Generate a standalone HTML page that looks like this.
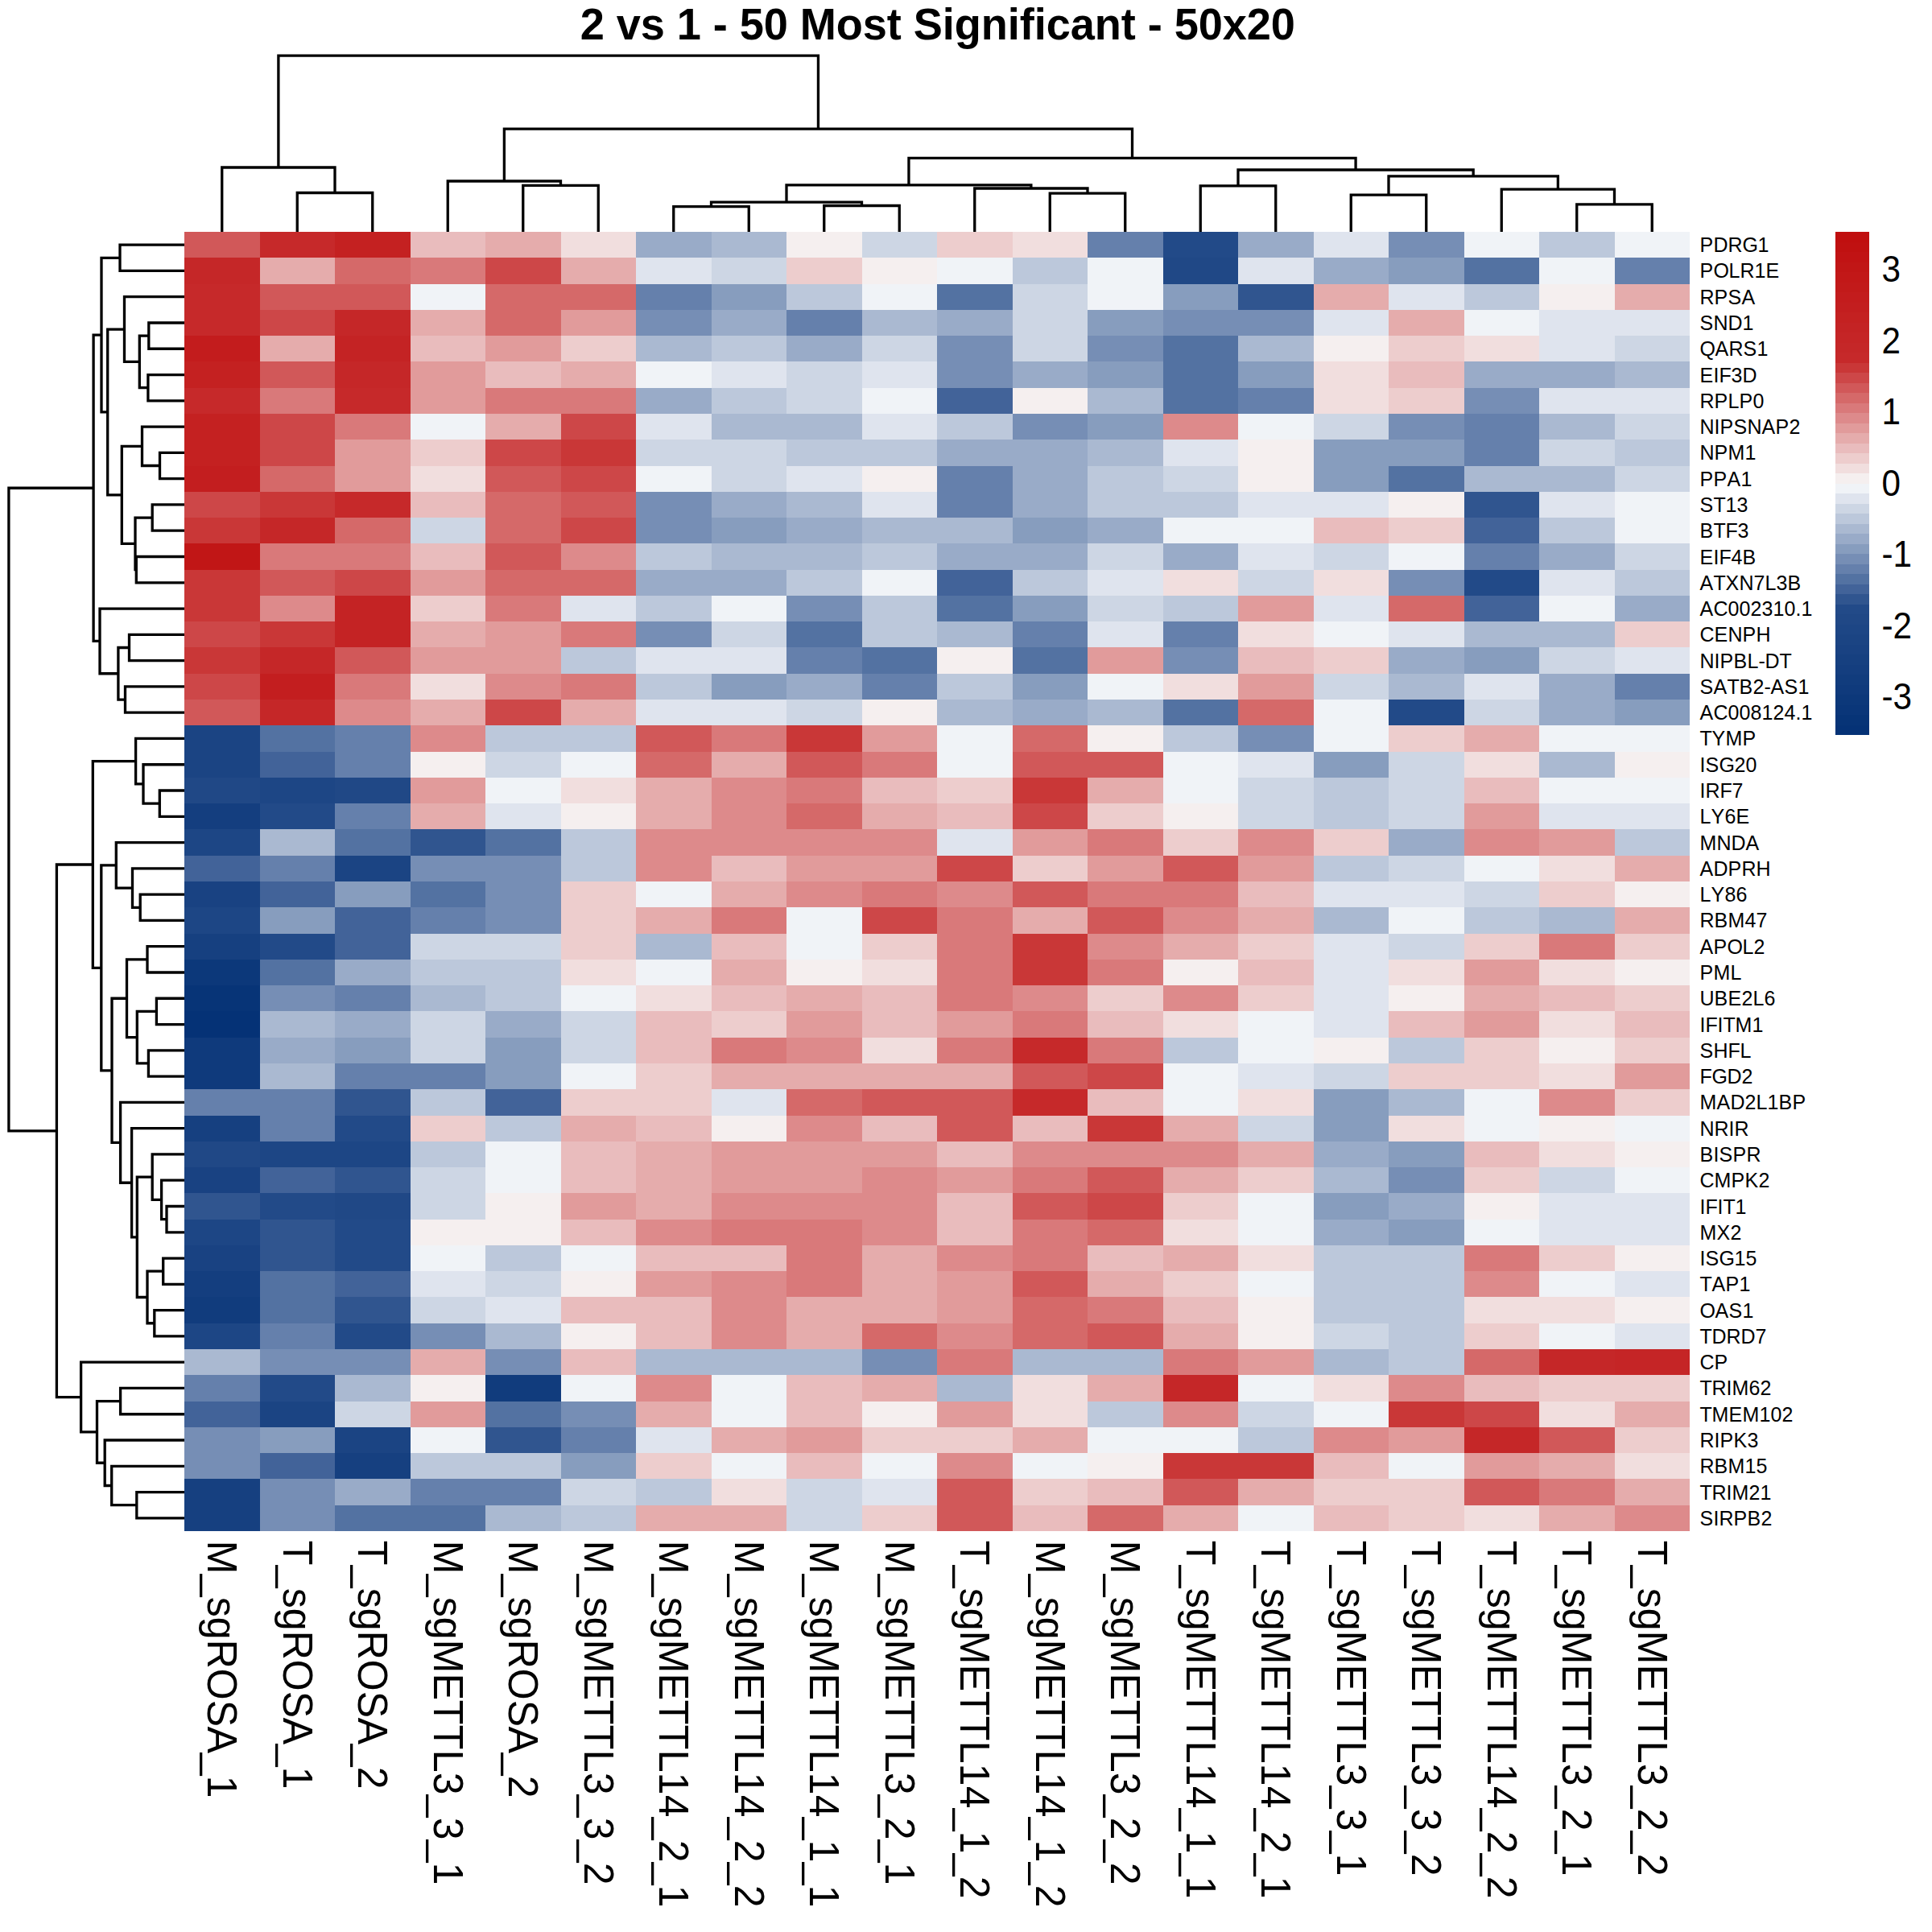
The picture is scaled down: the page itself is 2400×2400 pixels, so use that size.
<!DOCTYPE html>
<html lang="en"><head><meta charset="utf-8"><title>2 vs 1 - 50 Most Significant - 50x20</title>
<style>html,body{margin:0;padding:0;background:#fff}svg{display:block}text{font-family:"Liberation Sans",sans-serif;fill:#000}.t{font-weight:bold;font-size:54.17px}.r{font-size:25.0px}.c{font-size:50.0px}.l{font-size:42.3px}.d path{stroke:#000;stroke-width:3.3;fill:none;stroke-linecap:butt;stroke-linejoin:miter}</style></head><body>
<svg width="2400" height="2400" viewBox="0 0 2400 2400">
<rect width="2400" height="2400" fill="#fff"/>
<text class="t" transform="translate(720.70,49.0) scale(1,1.035)" x="0 30 45 75 105 120 150 165 183 198 228 258 273 318 351 381 399 414 450 465 498 531 546 564 579 609 639 672 690 705 723 738 768 798 828 858">2 vs 1 - 50 Most Significant - 50x20</text>
<g shape-rendering="crispEdges">
<rect x="229.00" y="288.00" width="94.00" height="32.78" fill="#D15859"/>
<rect x="322.50" y="288.00" width="94.00" height="32.78" fill="#C6292A"/>
<rect x="416.00" y="288.00" width="94.00" height="32.78" fill="#C42121"/>
<rect x="509.50" y="288.00" width="94.00" height="32.78" fill="#E9BCBD"/>
<rect x="603.00" y="288.00" width="94.00" height="32.78" fill="#E5ACAC"/>
<rect x="696.50" y="288.00" width="94.00" height="32.78" fill="#F1DEDE"/>
<rect x="790.00" y="288.00" width="94.00" height="32.78" fill="#99ABC8"/>
<rect x="883.50" y="288.00" width="94.00" height="32.78" fill="#AAB9D1"/>
<rect x="977.00" y="288.00" width="94.00" height="32.78" fill="#F5EFEF"/>
<rect x="1070.50" y="288.00" width="94.00" height="32.78" fill="#CDD6E4"/>
<rect x="1164.00" y="288.00" width="94.00" height="32.78" fill="#EDCDCD"/>
<rect x="1257.50" y="288.00" width="94.00" height="32.78" fill="#F1DEDE"/>
<rect x="1351.00" y="288.00" width="94.00" height="32.78" fill="#6580AC"/>
<rect x="1444.50" y="288.00" width="94.00" height="32.78" fill="#224A88"/>
<rect x="1538.00" y="288.00" width="94.00" height="32.78" fill="#99ABC8"/>
<rect x="1631.50" y="288.00" width="94.00" height="32.78" fill="#DFE4EE"/>
<rect x="1725.00" y="288.00" width="94.00" height="32.78" fill="#768EB5"/>
<rect x="1818.50" y="288.00" width="94.00" height="32.78" fill="#F0F3F7"/>
<rect x="1912.00" y="288.00" width="94.00" height="32.78" fill="#BCC8DB"/>
<rect x="2005.50" y="288.00" width="93.50" height="32.78" fill="#F0F3F7"/>
<rect x="229.00" y="320.28" width="94.00" height="32.78" fill="#C52728"/>
<rect x="322.50" y="320.28" width="94.00" height="32.78" fill="#E5ACAC"/>
<rect x="416.00" y="320.28" width="94.00" height="32.78" fill="#D56969"/>
<rect x="509.50" y="320.28" width="94.00" height="32.78" fill="#D9797A"/>
<rect x="603.00" y="320.28" width="94.00" height="32.78" fill="#CD4748"/>
<rect x="696.50" y="320.28" width="94.00" height="32.78" fill="#E5ACAC"/>
<rect x="790.00" y="320.28" width="94.00" height="32.78" fill="#DFE4EE"/>
<rect x="883.50" y="320.28" width="94.00" height="32.78" fill="#CDD6E4"/>
<rect x="977.00" y="320.28" width="94.00" height="32.78" fill="#EDCDCD"/>
<rect x="1070.50" y="320.28" width="94.00" height="32.78" fill="#F5EFEF"/>
<rect x="1164.00" y="320.28" width="94.00" height="32.78" fill="#F0F3F7"/>
<rect x="1257.50" y="320.28" width="94.00" height="32.78" fill="#BCC8DB"/>
<rect x="1351.00" y="320.28" width="94.00" height="32.78" fill="#F0F3F7"/>
<rect x="1444.50" y="320.28" width="94.00" height="32.78" fill="#204886"/>
<rect x="1538.00" y="320.28" width="94.00" height="32.78" fill="#DFE4EE"/>
<rect x="1631.50" y="320.28" width="94.00" height="32.78" fill="#99ABC8"/>
<rect x="1725.00" y="320.28" width="94.00" height="32.78" fill="#879DBE"/>
<rect x="1818.50" y="320.28" width="94.00" height="32.78" fill="#5372A2"/>
<rect x="1912.00" y="320.28" width="94.00" height="32.78" fill="#F0F3F7"/>
<rect x="2005.50" y="320.28" width="93.50" height="32.78" fill="#6580AC"/>
<rect x="229.00" y="352.56" width="94.00" height="32.78" fill="#C6292A"/>
<rect x="322.50" y="352.56" width="187.50" height="32.78" fill="#D15859"/>
<rect x="509.50" y="352.56" width="94.00" height="32.78" fill="#F0F3F7"/>
<rect x="603.00" y="352.56" width="187.50" height="32.78" fill="#D56969"/>
<rect x="790.00" y="352.56" width="94.00" height="32.78" fill="#6580AC"/>
<rect x="883.50" y="352.56" width="94.00" height="32.78" fill="#879DBE"/>
<rect x="977.00" y="352.56" width="94.00" height="32.78" fill="#BCC8DB"/>
<rect x="1070.50" y="352.56" width="94.00" height="32.78" fill="#F0F3F7"/>
<rect x="1164.00" y="352.56" width="94.00" height="32.78" fill="#5372A2"/>
<rect x="1257.50" y="352.56" width="94.00" height="32.78" fill="#CDD6E4"/>
<rect x="1351.00" y="352.56" width="94.00" height="32.78" fill="#F0F3F7"/>
<rect x="1444.50" y="352.56" width="94.00" height="32.78" fill="#879DBE"/>
<rect x="1538.00" y="352.56" width="94.00" height="32.78" fill="#30558F"/>
<rect x="1631.50" y="352.56" width="94.00" height="32.78" fill="#E5ACAC"/>
<rect x="1725.00" y="352.56" width="94.00" height="32.78" fill="#DFE4EE"/>
<rect x="1818.50" y="352.56" width="94.00" height="32.78" fill="#BCC8DB"/>
<rect x="1912.00" y="352.56" width="94.00" height="32.78" fill="#F5EFEF"/>
<rect x="2005.50" y="352.56" width="93.50" height="32.78" fill="#E5ACAC"/>
<rect x="229.00" y="384.84" width="94.00" height="32.78" fill="#C6292A"/>
<rect x="322.50" y="384.84" width="94.00" height="32.78" fill="#CD4748"/>
<rect x="416.00" y="384.84" width="94.00" height="32.78" fill="#C52728"/>
<rect x="509.50" y="384.84" width="94.00" height="32.78" fill="#E5ACAC"/>
<rect x="603.00" y="384.84" width="94.00" height="32.78" fill="#D56969"/>
<rect x="696.50" y="384.84" width="94.00" height="32.78" fill="#E19B9B"/>
<rect x="790.00" y="384.84" width="94.00" height="32.78" fill="#768EB5"/>
<rect x="883.50" y="384.84" width="94.00" height="32.78" fill="#99ABC8"/>
<rect x="977.00" y="384.84" width="94.00" height="32.78" fill="#6580AC"/>
<rect x="1070.50" y="384.84" width="94.00" height="32.78" fill="#AAB9D1"/>
<rect x="1164.00" y="384.84" width="94.00" height="32.78" fill="#99ABC8"/>
<rect x="1257.50" y="384.84" width="94.00" height="32.78" fill="#CDD6E4"/>
<rect x="1351.00" y="384.84" width="94.00" height="32.78" fill="#879DBE"/>
<rect x="1444.50" y="384.84" width="187.50" height="32.78" fill="#768EB5"/>
<rect x="1631.50" y="384.84" width="94.00" height="32.78" fill="#DFE4EE"/>
<rect x="1725.00" y="384.84" width="94.00" height="32.78" fill="#E5ACAC"/>
<rect x="1818.50" y="384.84" width="94.00" height="32.78" fill="#F0F3F7"/>
<rect x="1912.00" y="384.84" width="187.00" height="32.78" fill="#DFE4EE"/>
<rect x="229.00" y="417.12" width="94.00" height="32.78" fill="#C31C1D"/>
<rect x="322.50" y="417.12" width="94.00" height="32.78" fill="#E5ACAC"/>
<rect x="416.00" y="417.12" width="94.00" height="32.78" fill="#C42324"/>
<rect x="509.50" y="417.12" width="94.00" height="32.78" fill="#E9BCBD"/>
<rect x="603.00" y="417.12" width="94.00" height="32.78" fill="#E19B9B"/>
<rect x="696.50" y="417.12" width="94.00" height="32.78" fill="#EDCDCD"/>
<rect x="790.00" y="417.12" width="94.00" height="32.78" fill="#AAB9D1"/>
<rect x="883.50" y="417.12" width="94.00" height="32.78" fill="#BCC8DB"/>
<rect x="977.00" y="417.12" width="94.00" height="32.78" fill="#99ABC8"/>
<rect x="1070.50" y="417.12" width="94.00" height="32.78" fill="#CDD6E4"/>
<rect x="1164.00" y="417.12" width="94.00" height="32.78" fill="#768EB5"/>
<rect x="1257.50" y="417.12" width="94.00" height="32.78" fill="#CDD6E4"/>
<rect x="1351.00" y="417.12" width="94.00" height="32.78" fill="#768EB5"/>
<rect x="1444.50" y="417.12" width="94.00" height="32.78" fill="#5372A2"/>
<rect x="1538.00" y="417.12" width="94.00" height="32.78" fill="#AAB9D1"/>
<rect x="1631.50" y="417.12" width="94.00" height="32.78" fill="#F5EFEF"/>
<rect x="1725.00" y="417.12" width="94.00" height="32.78" fill="#EDCDCD"/>
<rect x="1818.50" y="417.12" width="94.00" height="32.78" fill="#F1DEDE"/>
<rect x="1912.00" y="417.12" width="94.00" height="32.78" fill="#DFE4EE"/>
<rect x="2005.50" y="417.12" width="93.50" height="32.78" fill="#CDD6E4"/>
<rect x="229.00" y="449.40" width="94.00" height="32.78" fill="#C42121"/>
<rect x="322.50" y="449.40" width="94.00" height="32.78" fill="#D15859"/>
<rect x="416.00" y="449.40" width="94.00" height="32.78" fill="#C52728"/>
<rect x="509.50" y="449.40" width="94.00" height="32.78" fill="#E19B9B"/>
<rect x="603.00" y="449.40" width="94.00" height="32.78" fill="#E9BCBD"/>
<rect x="696.50" y="449.40" width="94.00" height="32.78" fill="#E5ACAC"/>
<rect x="790.00" y="449.40" width="94.00" height="32.78" fill="#F0F3F7"/>
<rect x="883.50" y="449.40" width="94.00" height="32.78" fill="#DFE4EE"/>
<rect x="977.00" y="449.40" width="94.00" height="32.78" fill="#CDD6E4"/>
<rect x="1070.50" y="449.40" width="94.00" height="32.78" fill="#DFE4EE"/>
<rect x="1164.00" y="449.40" width="94.00" height="32.78" fill="#768EB5"/>
<rect x="1257.50" y="449.40" width="94.00" height="32.78" fill="#99ABC8"/>
<rect x="1351.00" y="449.40" width="94.00" height="32.78" fill="#879DBE"/>
<rect x="1444.50" y="449.40" width="94.00" height="32.78" fill="#5372A2"/>
<rect x="1538.00" y="449.40" width="94.00" height="32.78" fill="#879DBE"/>
<rect x="1631.50" y="449.40" width="94.00" height="32.78" fill="#F1DEDE"/>
<rect x="1725.00" y="449.40" width="94.00" height="32.78" fill="#E9BCBD"/>
<rect x="1818.50" y="449.40" width="187.50" height="32.78" fill="#99ABC8"/>
<rect x="2005.50" y="449.40" width="93.50" height="32.78" fill="#AAB9D1"/>
<rect x="229.00" y="481.68" width="94.00" height="32.78" fill="#C6292A"/>
<rect x="322.50" y="481.68" width="94.00" height="32.78" fill="#D9797A"/>
<rect x="416.00" y="481.68" width="94.00" height="32.78" fill="#C6292A"/>
<rect x="509.50" y="481.68" width="94.00" height="32.78" fill="#E19B9B"/>
<rect x="603.00" y="481.68" width="187.50" height="32.78" fill="#D9797A"/>
<rect x="790.00" y="481.68" width="94.00" height="32.78" fill="#99ABC8"/>
<rect x="883.50" y="481.68" width="94.00" height="32.78" fill="#BCC8DB"/>
<rect x="977.00" y="481.68" width="94.00" height="32.78" fill="#CDD6E4"/>
<rect x="1070.50" y="481.68" width="94.00" height="32.78" fill="#F0F3F7"/>
<rect x="1164.00" y="481.68" width="94.00" height="32.78" fill="#426399"/>
<rect x="1257.50" y="481.68" width="94.00" height="32.78" fill="#F5EFEF"/>
<rect x="1351.00" y="481.68" width="94.00" height="32.78" fill="#AAB9D1"/>
<rect x="1444.50" y="481.68" width="94.00" height="32.78" fill="#5372A2"/>
<rect x="1538.00" y="481.68" width="94.00" height="32.78" fill="#6580AC"/>
<rect x="1631.50" y="481.68" width="94.00" height="32.78" fill="#F1DEDE"/>
<rect x="1725.00" y="481.68" width="94.00" height="32.78" fill="#EDCDCD"/>
<rect x="1818.50" y="481.68" width="94.00" height="32.78" fill="#768EB5"/>
<rect x="1912.00" y="481.68" width="187.00" height="32.78" fill="#DFE4EE"/>
<rect x="229.00" y="513.96" width="94.00" height="32.78" fill="#C42121"/>
<rect x="322.50" y="513.96" width="94.00" height="32.78" fill="#CD4748"/>
<rect x="416.00" y="513.96" width="94.00" height="32.78" fill="#D9797A"/>
<rect x="509.50" y="513.96" width="94.00" height="32.78" fill="#F0F3F7"/>
<rect x="603.00" y="513.96" width="94.00" height="32.78" fill="#E5ACAC"/>
<rect x="696.50" y="513.96" width="94.00" height="32.78" fill="#CD4748"/>
<rect x="790.00" y="513.96" width="94.00" height="32.78" fill="#DFE4EE"/>
<rect x="883.50" y="513.96" width="187.50" height="32.78" fill="#AAB9D1"/>
<rect x="1070.50" y="513.96" width="94.00" height="32.78" fill="#DFE4EE"/>
<rect x="1164.00" y="513.96" width="94.00" height="32.78" fill="#BCC8DB"/>
<rect x="1257.50" y="513.96" width="94.00" height="32.78" fill="#768EB5"/>
<rect x="1351.00" y="513.96" width="94.00" height="32.78" fill="#879DBE"/>
<rect x="1444.50" y="513.96" width="94.00" height="32.78" fill="#DD8A8B"/>
<rect x="1538.00" y="513.96" width="94.00" height="32.78" fill="#F0F3F7"/>
<rect x="1631.50" y="513.96" width="94.00" height="32.78" fill="#CDD6E4"/>
<rect x="1725.00" y="513.96" width="94.00" height="32.78" fill="#768EB5"/>
<rect x="1818.50" y="513.96" width="94.00" height="32.78" fill="#6580AC"/>
<rect x="1912.00" y="513.96" width="94.00" height="32.78" fill="#AAB9D1"/>
<rect x="2005.50" y="513.96" width="93.50" height="32.78" fill="#CDD6E4"/>
<rect x="229.00" y="546.24" width="94.00" height="32.78" fill="#C42121"/>
<rect x="322.50" y="546.24" width="94.00" height="32.78" fill="#CD4748"/>
<rect x="416.00" y="546.24" width="94.00" height="32.78" fill="#E19B9B"/>
<rect x="509.50" y="546.24" width="94.00" height="32.78" fill="#EDCDCD"/>
<rect x="603.00" y="546.24" width="94.00" height="32.78" fill="#CD4748"/>
<rect x="696.50" y="546.24" width="94.00" height="32.78" fill="#C93737"/>
<rect x="790.00" y="546.24" width="187.50" height="32.78" fill="#CDD6E4"/>
<rect x="977.00" y="546.24" width="187.50" height="32.78" fill="#BCC8DB"/>
<rect x="1164.00" y="546.24" width="187.50" height="32.78" fill="#99ABC8"/>
<rect x="1351.00" y="546.24" width="94.00" height="32.78" fill="#AAB9D1"/>
<rect x="1444.50" y="546.24" width="94.00" height="32.78" fill="#DFE4EE"/>
<rect x="1538.00" y="546.24" width="94.00" height="32.78" fill="#F5EFEF"/>
<rect x="1631.50" y="546.24" width="187.50" height="32.78" fill="#879DBE"/>
<rect x="1818.50" y="546.24" width="94.00" height="32.78" fill="#6580AC"/>
<rect x="1912.00" y="546.24" width="94.00" height="32.78" fill="#CDD6E4"/>
<rect x="2005.50" y="546.24" width="93.50" height="32.78" fill="#BCC8DB"/>
<rect x="229.00" y="578.52" width="94.00" height="32.78" fill="#C31E1F"/>
<rect x="322.50" y="578.52" width="94.00" height="32.78" fill="#D56969"/>
<rect x="416.00" y="578.52" width="94.00" height="32.78" fill="#E19B9B"/>
<rect x="509.50" y="578.52" width="94.00" height="32.78" fill="#F1DEDE"/>
<rect x="603.00" y="578.52" width="94.00" height="32.78" fill="#D15859"/>
<rect x="696.50" y="578.52" width="94.00" height="32.78" fill="#CD4748"/>
<rect x="790.00" y="578.52" width="94.00" height="32.78" fill="#F0F3F7"/>
<rect x="883.50" y="578.52" width="94.00" height="32.78" fill="#CDD6E4"/>
<rect x="977.00" y="578.52" width="94.00" height="32.78" fill="#DFE4EE"/>
<rect x="1070.50" y="578.52" width="94.00" height="32.78" fill="#F5EFEF"/>
<rect x="1164.00" y="578.52" width="94.00" height="32.78" fill="#6580AC"/>
<rect x="1257.50" y="578.52" width="94.00" height="32.78" fill="#99ABC8"/>
<rect x="1351.00" y="578.52" width="94.00" height="32.78" fill="#BCC8DB"/>
<rect x="1444.50" y="578.52" width="94.00" height="32.78" fill="#CDD6E4"/>
<rect x="1538.00" y="578.52" width="94.00" height="32.78" fill="#F5EFEF"/>
<rect x="1631.50" y="578.52" width="94.00" height="32.78" fill="#879DBE"/>
<rect x="1725.00" y="578.52" width="94.00" height="32.78" fill="#5372A2"/>
<rect x="1818.50" y="578.52" width="187.50" height="32.78" fill="#AAB9D1"/>
<rect x="2005.50" y="578.52" width="93.50" height="32.78" fill="#CDD6E4"/>
<rect x="229.00" y="610.80" width="94.00" height="32.78" fill="#CD4748"/>
<rect x="322.50" y="610.80" width="94.00" height="32.78" fill="#C93737"/>
<rect x="416.00" y="610.80" width="94.00" height="32.78" fill="#C6292A"/>
<rect x="509.50" y="610.80" width="94.00" height="32.78" fill="#E9BCBD"/>
<rect x="603.00" y="610.80" width="94.00" height="32.78" fill="#D56969"/>
<rect x="696.50" y="610.80" width="94.00" height="32.78" fill="#D15859"/>
<rect x="790.00" y="610.80" width="94.00" height="32.78" fill="#768EB5"/>
<rect x="883.50" y="610.80" width="94.00" height="32.78" fill="#99ABC8"/>
<rect x="977.00" y="610.80" width="94.00" height="32.78" fill="#AAB9D1"/>
<rect x="1070.50" y="610.80" width="94.00" height="32.78" fill="#DFE4EE"/>
<rect x="1164.00" y="610.80" width="94.00" height="32.78" fill="#6580AC"/>
<rect x="1257.50" y="610.80" width="94.00" height="32.78" fill="#99ABC8"/>
<rect x="1351.00" y="610.80" width="187.50" height="32.78" fill="#BCC8DB"/>
<rect x="1538.00" y="610.80" width="187.50" height="32.78" fill="#DFE4EE"/>
<rect x="1725.00" y="610.80" width="94.00" height="32.78" fill="#F5EFEF"/>
<rect x="1818.50" y="610.80" width="94.00" height="32.78" fill="#30558F"/>
<rect x="1912.00" y="610.80" width="94.00" height="32.78" fill="#DFE4EE"/>
<rect x="2005.50" y="610.80" width="93.50" height="32.78" fill="#F0F3F7"/>
<rect x="229.00" y="643.08" width="94.00" height="32.78" fill="#C93737"/>
<rect x="322.50" y="643.08" width="94.00" height="32.78" fill="#C52728"/>
<rect x="416.00" y="643.08" width="94.00" height="32.78" fill="#D56969"/>
<rect x="509.50" y="643.08" width="94.00" height="32.78" fill="#CDD6E4"/>
<rect x="603.00" y="643.08" width="94.00" height="32.78" fill="#D56969"/>
<rect x="696.50" y="643.08" width="94.00" height="32.78" fill="#CD4748"/>
<rect x="790.00" y="643.08" width="94.00" height="32.78" fill="#768EB5"/>
<rect x="883.50" y="643.08" width="94.00" height="32.78" fill="#879DBE"/>
<rect x="977.00" y="643.08" width="94.00" height="32.78" fill="#99ABC8"/>
<rect x="1070.50" y="643.08" width="187.50" height="32.78" fill="#AAB9D1"/>
<rect x="1257.50" y="643.08" width="94.00" height="32.78" fill="#879DBE"/>
<rect x="1351.00" y="643.08" width="94.00" height="32.78" fill="#99ABC8"/>
<rect x="1444.50" y="643.08" width="187.50" height="32.78" fill="#F0F3F7"/>
<rect x="1631.50" y="643.08" width="94.00" height="32.78" fill="#E9BCBD"/>
<rect x="1725.00" y="643.08" width="94.00" height="32.78" fill="#EDCDCD"/>
<rect x="1818.50" y="643.08" width="94.00" height="32.78" fill="#426399"/>
<rect x="1912.00" y="643.08" width="94.00" height="32.78" fill="#BCC8DB"/>
<rect x="2005.50" y="643.08" width="93.50" height="32.78" fill="#F0F3F7"/>
<rect x="229.00" y="675.36" width="94.00" height="32.78" fill="#C11616"/>
<rect x="322.50" y="675.36" width="187.50" height="32.78" fill="#D9797A"/>
<rect x="509.50" y="675.36" width="94.00" height="32.78" fill="#E9BCBD"/>
<rect x="603.00" y="675.36" width="94.00" height="32.78" fill="#D15859"/>
<rect x="696.50" y="675.36" width="94.00" height="32.78" fill="#DD8A8B"/>
<rect x="790.00" y="675.36" width="94.00" height="32.78" fill="#BCC8DB"/>
<rect x="883.50" y="675.36" width="187.50" height="32.78" fill="#AAB9D1"/>
<rect x="1070.50" y="675.36" width="94.00" height="32.78" fill="#BCC8DB"/>
<rect x="1164.00" y="675.36" width="187.50" height="32.78" fill="#99ABC8"/>
<rect x="1351.00" y="675.36" width="94.00" height="32.78" fill="#CDD6E4"/>
<rect x="1444.50" y="675.36" width="94.00" height="32.78" fill="#99ABC8"/>
<rect x="1538.00" y="675.36" width="94.00" height="32.78" fill="#DFE4EE"/>
<rect x="1631.50" y="675.36" width="94.00" height="32.78" fill="#CDD6E4"/>
<rect x="1725.00" y="675.36" width="94.00" height="32.78" fill="#F0F3F7"/>
<rect x="1818.50" y="675.36" width="94.00" height="32.78" fill="#6580AC"/>
<rect x="1912.00" y="675.36" width="94.00" height="32.78" fill="#99ABC8"/>
<rect x="2005.50" y="675.36" width="93.50" height="32.78" fill="#CDD6E4"/>
<rect x="229.00" y="707.64" width="94.00" height="32.78" fill="#C93737"/>
<rect x="322.50" y="707.64" width="94.00" height="32.78" fill="#D15859"/>
<rect x="416.00" y="707.64" width="94.00" height="32.78" fill="#CD4748"/>
<rect x="509.50" y="707.64" width="94.00" height="32.78" fill="#E19B9B"/>
<rect x="603.00" y="707.64" width="187.50" height="32.78" fill="#D56969"/>
<rect x="790.00" y="707.64" width="187.50" height="32.78" fill="#99ABC8"/>
<rect x="977.00" y="707.64" width="94.00" height="32.78" fill="#BCC8DB"/>
<rect x="1070.50" y="707.64" width="94.00" height="32.78" fill="#F0F3F7"/>
<rect x="1164.00" y="707.64" width="94.00" height="32.78" fill="#426399"/>
<rect x="1257.50" y="707.64" width="94.00" height="32.78" fill="#BCC8DB"/>
<rect x="1351.00" y="707.64" width="94.00" height="32.78" fill="#DFE4EE"/>
<rect x="1444.50" y="707.64" width="94.00" height="32.78" fill="#F1DEDE"/>
<rect x="1538.00" y="707.64" width="94.00" height="32.78" fill="#CDD6E4"/>
<rect x="1631.50" y="707.64" width="94.00" height="32.78" fill="#F1DEDE"/>
<rect x="1725.00" y="707.64" width="94.00" height="32.78" fill="#768EB5"/>
<rect x="1818.50" y="707.64" width="94.00" height="32.78" fill="#224A88"/>
<rect x="1912.00" y="707.64" width="94.00" height="32.78" fill="#DFE4EE"/>
<rect x="2005.50" y="707.64" width="93.50" height="32.78" fill="#BCC8DB"/>
<rect x="229.00" y="739.92" width="94.00" height="32.78" fill="#C93737"/>
<rect x="322.50" y="739.92" width="94.00" height="32.78" fill="#DD8A8B"/>
<rect x="416.00" y="739.92" width="94.00" height="32.78" fill="#C42324"/>
<rect x="509.50" y="739.92" width="94.00" height="32.78" fill="#EDCDCD"/>
<rect x="603.00" y="739.92" width="94.00" height="32.78" fill="#D9797A"/>
<rect x="696.50" y="739.92" width="94.00" height="32.78" fill="#DFE4EE"/>
<rect x="790.00" y="739.92" width="94.00" height="32.78" fill="#BCC8DB"/>
<rect x="883.50" y="739.92" width="94.00" height="32.78" fill="#F0F3F7"/>
<rect x="977.00" y="739.92" width="94.00" height="32.78" fill="#768EB5"/>
<rect x="1070.50" y="739.92" width="94.00" height="32.78" fill="#BCC8DB"/>
<rect x="1164.00" y="739.92" width="94.00" height="32.78" fill="#5372A2"/>
<rect x="1257.50" y="739.92" width="94.00" height="32.78" fill="#879DBE"/>
<rect x="1351.00" y="739.92" width="94.00" height="32.78" fill="#CDD6E4"/>
<rect x="1444.50" y="739.92" width="94.00" height="32.78" fill="#BCC8DB"/>
<rect x="1538.00" y="739.92" width="94.00" height="32.78" fill="#E19B9B"/>
<rect x="1631.50" y="739.92" width="94.00" height="32.78" fill="#DFE4EE"/>
<rect x="1725.00" y="739.92" width="94.00" height="32.78" fill="#D56969"/>
<rect x="1818.50" y="739.92" width="94.00" height="32.78" fill="#426399"/>
<rect x="1912.00" y="739.92" width="94.00" height="32.78" fill="#F0F3F7"/>
<rect x="2005.50" y="739.92" width="93.50" height="32.78" fill="#99ABC8"/>
<rect x="229.00" y="772.20" width="94.00" height="32.78" fill="#CD4748"/>
<rect x="322.50" y="772.20" width="94.00" height="32.78" fill="#C93737"/>
<rect x="416.00" y="772.20" width="94.00" height="32.78" fill="#C42324"/>
<rect x="509.50" y="772.20" width="94.00" height="32.78" fill="#E5ACAC"/>
<rect x="603.00" y="772.20" width="94.00" height="32.78" fill="#E19B9B"/>
<rect x="696.50" y="772.20" width="94.00" height="32.78" fill="#D9797A"/>
<rect x="790.00" y="772.20" width="94.00" height="32.78" fill="#768EB5"/>
<rect x="883.50" y="772.20" width="94.00" height="32.78" fill="#CDD6E4"/>
<rect x="977.00" y="772.20" width="94.00" height="32.78" fill="#5372A2"/>
<rect x="1070.50" y="772.20" width="94.00" height="32.78" fill="#BCC8DB"/>
<rect x="1164.00" y="772.20" width="94.00" height="32.78" fill="#AAB9D1"/>
<rect x="1257.50" y="772.20" width="94.00" height="32.78" fill="#6580AC"/>
<rect x="1351.00" y="772.20" width="94.00" height="32.78" fill="#DFE4EE"/>
<rect x="1444.50" y="772.20" width="94.00" height="32.78" fill="#6580AC"/>
<rect x="1538.00" y="772.20" width="94.00" height="32.78" fill="#F1DEDE"/>
<rect x="1631.50" y="772.20" width="94.00" height="32.78" fill="#F0F3F7"/>
<rect x="1725.00" y="772.20" width="94.00" height="32.78" fill="#DFE4EE"/>
<rect x="1818.50" y="772.20" width="187.50" height="32.78" fill="#AAB9D1"/>
<rect x="2005.50" y="772.20" width="93.50" height="32.78" fill="#EDCDCD"/>
<rect x="229.00" y="804.48" width="94.00" height="32.78" fill="#C93737"/>
<rect x="322.50" y="804.48" width="94.00" height="32.78" fill="#C52728"/>
<rect x="416.00" y="804.48" width="94.00" height="32.78" fill="#D15859"/>
<rect x="509.50" y="804.48" width="187.50" height="32.78" fill="#E19B9B"/>
<rect x="696.50" y="804.48" width="94.00" height="32.78" fill="#BCC8DB"/>
<rect x="790.00" y="804.48" width="187.50" height="32.78" fill="#DFE4EE"/>
<rect x="977.00" y="804.48" width="94.00" height="32.78" fill="#6580AC"/>
<rect x="1070.50" y="804.48" width="94.00" height="32.78" fill="#5372A2"/>
<rect x="1164.00" y="804.48" width="94.00" height="32.78" fill="#F5EFEF"/>
<rect x="1257.50" y="804.48" width="94.00" height="32.78" fill="#5372A2"/>
<rect x="1351.00" y="804.48" width="94.00" height="32.78" fill="#E19B9B"/>
<rect x="1444.50" y="804.48" width="94.00" height="32.78" fill="#768EB5"/>
<rect x="1538.00" y="804.48" width="94.00" height="32.78" fill="#E9BCBD"/>
<rect x="1631.50" y="804.48" width="94.00" height="32.78" fill="#EDCDCD"/>
<rect x="1725.00" y="804.48" width="94.00" height="32.78" fill="#99ABC8"/>
<rect x="1818.50" y="804.48" width="94.00" height="32.78" fill="#879DBE"/>
<rect x="1912.00" y="804.48" width="94.00" height="32.78" fill="#CDD6E4"/>
<rect x="2005.50" y="804.48" width="93.50" height="32.78" fill="#DFE4EE"/>
<rect x="229.00" y="836.76" width="94.00" height="32.78" fill="#CD4748"/>
<rect x="322.50" y="836.76" width="94.00" height="32.78" fill="#C31E1F"/>
<rect x="416.00" y="836.76" width="94.00" height="32.78" fill="#D9797A"/>
<rect x="509.50" y="836.76" width="94.00" height="32.78" fill="#F1DEDE"/>
<rect x="603.00" y="836.76" width="94.00" height="32.78" fill="#DD8A8B"/>
<rect x="696.50" y="836.76" width="94.00" height="32.78" fill="#D9797A"/>
<rect x="790.00" y="836.76" width="94.00" height="32.78" fill="#BCC8DB"/>
<rect x="883.50" y="836.76" width="94.00" height="32.78" fill="#879DBE"/>
<rect x="977.00" y="836.76" width="94.00" height="32.78" fill="#99ABC8"/>
<rect x="1070.50" y="836.76" width="94.00" height="32.78" fill="#6580AC"/>
<rect x="1164.00" y="836.76" width="94.00" height="32.78" fill="#BCC8DB"/>
<rect x="1257.50" y="836.76" width="94.00" height="32.78" fill="#879DBE"/>
<rect x="1351.00" y="836.76" width="94.00" height="32.78" fill="#F0F3F7"/>
<rect x="1444.50" y="836.76" width="94.00" height="32.78" fill="#F1DEDE"/>
<rect x="1538.00" y="836.76" width="94.00" height="32.78" fill="#E19B9B"/>
<rect x="1631.50" y="836.76" width="94.00" height="32.78" fill="#CDD6E4"/>
<rect x="1725.00" y="836.76" width="94.00" height="32.78" fill="#AAB9D1"/>
<rect x="1818.50" y="836.76" width="94.00" height="32.78" fill="#DFE4EE"/>
<rect x="1912.00" y="836.76" width="94.00" height="32.78" fill="#99ABC8"/>
<rect x="2005.50" y="836.76" width="93.50" height="32.78" fill="#6580AC"/>
<rect x="229.00" y="869.04" width="94.00" height="32.78" fill="#D15859"/>
<rect x="322.50" y="869.04" width="94.00" height="32.78" fill="#C52728"/>
<rect x="416.00" y="869.04" width="94.00" height="32.78" fill="#DD8A8B"/>
<rect x="509.50" y="869.04" width="94.00" height="32.78" fill="#E5ACAC"/>
<rect x="603.00" y="869.04" width="94.00" height="32.78" fill="#CD4748"/>
<rect x="696.50" y="869.04" width="94.00" height="32.78" fill="#E5ACAC"/>
<rect x="790.00" y="869.04" width="187.50" height="32.78" fill="#DFE4EE"/>
<rect x="977.00" y="869.04" width="94.00" height="32.78" fill="#CDD6E4"/>
<rect x="1070.50" y="869.04" width="94.00" height="32.78" fill="#F5EFEF"/>
<rect x="1164.00" y="869.04" width="94.00" height="32.78" fill="#AAB9D1"/>
<rect x="1257.50" y="869.04" width="94.00" height="32.78" fill="#99ABC8"/>
<rect x="1351.00" y="869.04" width="94.00" height="32.78" fill="#AAB9D1"/>
<rect x="1444.50" y="869.04" width="94.00" height="32.78" fill="#5372A2"/>
<rect x="1538.00" y="869.04" width="94.00" height="32.78" fill="#D56969"/>
<rect x="1631.50" y="869.04" width="94.00" height="32.78" fill="#F0F3F7"/>
<rect x="1725.00" y="869.04" width="94.00" height="32.78" fill="#224A88"/>
<rect x="1818.50" y="869.04" width="94.00" height="32.78" fill="#CDD6E4"/>
<rect x="1912.00" y="869.04" width="94.00" height="32.78" fill="#99ABC8"/>
<rect x="2005.50" y="869.04" width="93.50" height="32.78" fill="#879DBE"/>
<rect x="229.00" y="901.32" width="94.00" height="32.78" fill="#1B4483"/>
<rect x="322.50" y="901.32" width="94.00" height="32.78" fill="#5372A2"/>
<rect x="416.00" y="901.32" width="94.00" height="32.78" fill="#6580AC"/>
<rect x="509.50" y="901.32" width="94.00" height="32.78" fill="#DD8A8B"/>
<rect x="603.00" y="901.32" width="187.50" height="32.78" fill="#BCC8DB"/>
<rect x="790.00" y="901.32" width="94.00" height="32.78" fill="#D15859"/>
<rect x="883.50" y="901.32" width="94.00" height="32.78" fill="#D9797A"/>
<rect x="977.00" y="901.32" width="94.00" height="32.78" fill="#C93737"/>
<rect x="1070.50" y="901.32" width="94.00" height="32.78" fill="#E19B9B"/>
<rect x="1164.00" y="901.32" width="94.00" height="32.78" fill="#F0F3F7"/>
<rect x="1257.50" y="901.32" width="94.00" height="32.78" fill="#D56969"/>
<rect x="1351.00" y="901.32" width="94.00" height="32.78" fill="#F5EFEF"/>
<rect x="1444.50" y="901.32" width="94.00" height="32.78" fill="#BCC8DB"/>
<rect x="1538.00" y="901.32" width="94.00" height="32.78" fill="#768EB5"/>
<rect x="1631.50" y="901.32" width="94.00" height="32.78" fill="#F0F3F7"/>
<rect x="1725.00" y="901.32" width="94.00" height="32.78" fill="#EDCDCD"/>
<rect x="1818.50" y="901.32" width="94.00" height="32.78" fill="#E5ACAC"/>
<rect x="1912.00" y="901.32" width="187.00" height="32.78" fill="#F0F3F7"/>
<rect x="229.00" y="933.60" width="94.00" height="32.78" fill="#1B4483"/>
<rect x="322.50" y="933.60" width="94.00" height="32.78" fill="#426399"/>
<rect x="416.00" y="933.60" width="94.00" height="32.78" fill="#6580AC"/>
<rect x="509.50" y="933.60" width="94.00" height="32.78" fill="#F5EFEF"/>
<rect x="603.00" y="933.60" width="94.00" height="32.78" fill="#CDD6E4"/>
<rect x="696.50" y="933.60" width="94.00" height="32.78" fill="#F0F3F7"/>
<rect x="790.00" y="933.60" width="94.00" height="32.78" fill="#D56969"/>
<rect x="883.50" y="933.60" width="94.00" height="32.78" fill="#E5ACAC"/>
<rect x="977.00" y="933.60" width="94.00" height="32.78" fill="#D15859"/>
<rect x="1070.50" y="933.60" width="94.00" height="32.78" fill="#D9797A"/>
<rect x="1164.00" y="933.60" width="94.00" height="32.78" fill="#F0F3F7"/>
<rect x="1257.50" y="933.60" width="187.50" height="32.78" fill="#D15859"/>
<rect x="1444.50" y="933.60" width="94.00" height="32.78" fill="#F0F3F7"/>
<rect x="1538.00" y="933.60" width="94.00" height="32.78" fill="#DFE4EE"/>
<rect x="1631.50" y="933.60" width="94.00" height="32.78" fill="#879DBE"/>
<rect x="1725.00" y="933.60" width="94.00" height="32.78" fill="#CDD6E4"/>
<rect x="1818.50" y="933.60" width="94.00" height="32.78" fill="#F1DEDE"/>
<rect x="1912.00" y="933.60" width="94.00" height="32.78" fill="#AAB9D1"/>
<rect x="2005.50" y="933.60" width="93.50" height="32.78" fill="#F5EFEF"/>
<rect x="229.00" y="965.88" width="94.00" height="32.78" fill="#204886"/>
<rect x="322.50" y="965.88" width="94.00" height="32.78" fill="#1D4685"/>
<rect x="416.00" y="965.88" width="94.00" height="32.78" fill="#204886"/>
<rect x="509.50" y="965.88" width="94.00" height="32.78" fill="#E19B9B"/>
<rect x="603.00" y="965.88" width="94.00" height="32.78" fill="#F0F3F7"/>
<rect x="696.50" y="965.88" width="94.00" height="32.78" fill="#F1DEDE"/>
<rect x="790.00" y="965.88" width="94.00" height="32.78" fill="#E5ACAC"/>
<rect x="883.50" y="965.88" width="94.00" height="32.78" fill="#DD8A8B"/>
<rect x="977.00" y="965.88" width="94.00" height="32.78" fill="#D9797A"/>
<rect x="1070.50" y="965.88" width="94.00" height="32.78" fill="#E9BCBD"/>
<rect x="1164.00" y="965.88" width="94.00" height="32.78" fill="#EDCDCD"/>
<rect x="1257.50" y="965.88" width="94.00" height="32.78" fill="#C93737"/>
<rect x="1351.00" y="965.88" width="94.00" height="32.78" fill="#E5ACAC"/>
<rect x="1444.50" y="965.88" width="94.00" height="32.78" fill="#F0F3F7"/>
<rect x="1538.00" y="965.88" width="94.00" height="32.78" fill="#CDD6E4"/>
<rect x="1631.50" y="965.88" width="94.00" height="32.78" fill="#BCC8DB"/>
<rect x="1725.00" y="965.88" width="94.00" height="32.78" fill="#CDD6E4"/>
<rect x="1818.50" y="965.88" width="94.00" height="32.78" fill="#E9BCBD"/>
<rect x="1912.00" y="965.88" width="187.00" height="32.78" fill="#F0F3F7"/>
<rect x="229.00" y="998.16" width="94.00" height="32.78" fill="#143E7F"/>
<rect x="322.50" y="998.16" width="94.00" height="32.78" fill="#224A88"/>
<rect x="416.00" y="998.16" width="94.00" height="32.78" fill="#6580AC"/>
<rect x="509.50" y="998.16" width="94.00" height="32.78" fill="#E5ACAC"/>
<rect x="603.00" y="998.16" width="94.00" height="32.78" fill="#DFE4EE"/>
<rect x="696.50" y="998.16" width="94.00" height="32.78" fill="#F5EFEF"/>
<rect x="790.00" y="998.16" width="94.00" height="32.78" fill="#E5ACAC"/>
<rect x="883.50" y="998.16" width="94.00" height="32.78" fill="#DD8A8B"/>
<rect x="977.00" y="998.16" width="94.00" height="32.78" fill="#D56969"/>
<rect x="1070.50" y="998.16" width="94.00" height="32.78" fill="#E5ACAC"/>
<rect x="1164.00" y="998.16" width="94.00" height="32.78" fill="#E9BCBD"/>
<rect x="1257.50" y="998.16" width="94.00" height="32.78" fill="#CD4748"/>
<rect x="1351.00" y="998.16" width="94.00" height="32.78" fill="#EDCDCD"/>
<rect x="1444.50" y="998.16" width="94.00" height="32.78" fill="#F5EFEF"/>
<rect x="1538.00" y="998.16" width="94.00" height="32.78" fill="#CDD6E4"/>
<rect x="1631.50" y="998.16" width="94.00" height="32.78" fill="#BCC8DB"/>
<rect x="1725.00" y="998.16" width="94.00" height="32.78" fill="#CDD6E4"/>
<rect x="1818.50" y="998.16" width="94.00" height="32.78" fill="#E19B9B"/>
<rect x="1912.00" y="998.16" width="187.00" height="32.78" fill="#DFE4EE"/>
<rect x="229.00" y="1030.44" width="94.00" height="32.78" fill="#1D4685"/>
<rect x="322.50" y="1030.44" width="94.00" height="32.78" fill="#AAB9D1"/>
<rect x="416.00" y="1030.44" width="94.00" height="32.78" fill="#5372A2"/>
<rect x="509.50" y="1030.44" width="94.00" height="32.78" fill="#30558F"/>
<rect x="603.00" y="1030.44" width="94.00" height="32.78" fill="#5372A2"/>
<rect x="696.50" y="1030.44" width="94.00" height="32.78" fill="#BCC8DB"/>
<rect x="790.00" y="1030.44" width="374.50" height="32.78" fill="#DD8A8B"/>
<rect x="1164.00" y="1030.44" width="94.00" height="32.78" fill="#DFE4EE"/>
<rect x="1257.50" y="1030.44" width="94.00" height="32.78" fill="#E19B9B"/>
<rect x="1351.00" y="1030.44" width="94.00" height="32.78" fill="#D9797A"/>
<rect x="1444.50" y="1030.44" width="94.00" height="32.78" fill="#EDCDCD"/>
<rect x="1538.00" y="1030.44" width="94.00" height="32.78" fill="#DD8A8B"/>
<rect x="1631.50" y="1030.44" width="94.00" height="32.78" fill="#EDCDCD"/>
<rect x="1725.00" y="1030.44" width="94.00" height="32.78" fill="#99ABC8"/>
<rect x="1818.50" y="1030.44" width="94.00" height="32.78" fill="#DD8A8B"/>
<rect x="1912.00" y="1030.44" width="94.00" height="32.78" fill="#E19B9B"/>
<rect x="2005.50" y="1030.44" width="93.50" height="32.78" fill="#BCC8DB"/>
<rect x="229.00" y="1062.72" width="94.00" height="32.78" fill="#426399"/>
<rect x="322.50" y="1062.72" width="94.00" height="32.78" fill="#6580AC"/>
<rect x="416.00" y="1062.72" width="94.00" height="32.78" fill="#1B4483"/>
<rect x="509.50" y="1062.72" width="187.50" height="32.78" fill="#768EB5"/>
<rect x="696.50" y="1062.72" width="94.00" height="32.78" fill="#BCC8DB"/>
<rect x="790.00" y="1062.72" width="94.00" height="32.78" fill="#DD8A8B"/>
<rect x="883.50" y="1062.72" width="94.00" height="32.78" fill="#E9BCBD"/>
<rect x="977.00" y="1062.72" width="187.50" height="32.78" fill="#E19B9B"/>
<rect x="1164.00" y="1062.72" width="94.00" height="32.78" fill="#CD4748"/>
<rect x="1257.50" y="1062.72" width="94.00" height="32.78" fill="#EDCDCD"/>
<rect x="1351.00" y="1062.72" width="94.00" height="32.78" fill="#E19B9B"/>
<rect x="1444.50" y="1062.72" width="94.00" height="32.78" fill="#D15859"/>
<rect x="1538.00" y="1062.72" width="94.00" height="32.78" fill="#E19B9B"/>
<rect x="1631.50" y="1062.72" width="94.00" height="32.78" fill="#BCC8DB"/>
<rect x="1725.00" y="1062.72" width="94.00" height="32.78" fill="#CDD6E4"/>
<rect x="1818.50" y="1062.72" width="94.00" height="32.78" fill="#F0F3F7"/>
<rect x="1912.00" y="1062.72" width="94.00" height="32.78" fill="#F1DEDE"/>
<rect x="2005.50" y="1062.72" width="93.50" height="32.78" fill="#E5ACAC"/>
<rect x="229.00" y="1095.00" width="94.00" height="32.78" fill="#194282"/>
<rect x="322.50" y="1095.00" width="94.00" height="32.78" fill="#426399"/>
<rect x="416.00" y="1095.00" width="94.00" height="32.78" fill="#879DBE"/>
<rect x="509.50" y="1095.00" width="94.00" height="32.78" fill="#5372A2"/>
<rect x="603.00" y="1095.00" width="94.00" height="32.78" fill="#768EB5"/>
<rect x="696.50" y="1095.00" width="94.00" height="32.78" fill="#EDCDCD"/>
<rect x="790.00" y="1095.00" width="94.00" height="32.78" fill="#F0F3F7"/>
<rect x="883.50" y="1095.00" width="94.00" height="32.78" fill="#E5ACAC"/>
<rect x="977.00" y="1095.00" width="94.00" height="32.78" fill="#DD8A8B"/>
<rect x="1070.50" y="1095.00" width="94.00" height="32.78" fill="#D9797A"/>
<rect x="1164.00" y="1095.00" width="94.00" height="32.78" fill="#DD8A8B"/>
<rect x="1257.50" y="1095.00" width="94.00" height="32.78" fill="#D15859"/>
<rect x="1351.00" y="1095.00" width="187.50" height="32.78" fill="#D9797A"/>
<rect x="1538.00" y="1095.00" width="94.00" height="32.78" fill="#E9BCBD"/>
<rect x="1631.50" y="1095.00" width="187.50" height="32.78" fill="#DFE4EE"/>
<rect x="1818.50" y="1095.00" width="94.00" height="32.78" fill="#CDD6E4"/>
<rect x="1912.00" y="1095.00" width="94.00" height="32.78" fill="#EDCDCD"/>
<rect x="2005.50" y="1095.00" width="93.50" height="32.78" fill="#F5EFEF"/>
<rect x="229.00" y="1127.28" width="94.00" height="32.78" fill="#1D4685"/>
<rect x="322.50" y="1127.28" width="94.00" height="32.78" fill="#879DBE"/>
<rect x="416.00" y="1127.28" width="94.00" height="32.78" fill="#426399"/>
<rect x="509.50" y="1127.28" width="94.00" height="32.78" fill="#6580AC"/>
<rect x="603.00" y="1127.28" width="94.00" height="32.78" fill="#768EB5"/>
<rect x="696.50" y="1127.28" width="94.00" height="32.78" fill="#EDCDCD"/>
<rect x="790.00" y="1127.28" width="94.00" height="32.78" fill="#E5ACAC"/>
<rect x="883.50" y="1127.28" width="94.00" height="32.78" fill="#D9797A"/>
<rect x="977.00" y="1127.28" width="94.00" height="32.78" fill="#F0F3F7"/>
<rect x="1070.50" y="1127.28" width="94.00" height="32.78" fill="#CD4748"/>
<rect x="1164.00" y="1127.28" width="94.00" height="32.78" fill="#D9797A"/>
<rect x="1257.50" y="1127.28" width="94.00" height="32.78" fill="#E5ACAC"/>
<rect x="1351.00" y="1127.28" width="94.00" height="32.78" fill="#D15859"/>
<rect x="1444.50" y="1127.28" width="94.00" height="32.78" fill="#DD8A8B"/>
<rect x="1538.00" y="1127.28" width="94.00" height="32.78" fill="#E5ACAC"/>
<rect x="1631.50" y="1127.28" width="94.00" height="32.78" fill="#AAB9D1"/>
<rect x="1725.00" y="1127.28" width="94.00" height="32.78" fill="#F0F3F7"/>
<rect x="1818.50" y="1127.28" width="94.00" height="32.78" fill="#BCC8DB"/>
<rect x="1912.00" y="1127.28" width="94.00" height="32.78" fill="#AAB9D1"/>
<rect x="2005.50" y="1127.28" width="93.50" height="32.78" fill="#E5ACAC"/>
<rect x="229.00" y="1159.56" width="94.00" height="32.78" fill="#164080"/>
<rect x="322.50" y="1159.56" width="94.00" height="32.78" fill="#224A88"/>
<rect x="416.00" y="1159.56" width="94.00" height="32.78" fill="#426399"/>
<rect x="509.50" y="1159.56" width="187.50" height="32.78" fill="#CDD6E4"/>
<rect x="696.50" y="1159.56" width="94.00" height="32.78" fill="#EDCDCD"/>
<rect x="790.00" y="1159.56" width="94.00" height="32.78" fill="#AAB9D1"/>
<rect x="883.50" y="1159.56" width="94.00" height="32.78" fill="#E9BCBD"/>
<rect x="977.00" y="1159.56" width="94.00" height="32.78" fill="#F0F3F7"/>
<rect x="1070.50" y="1159.56" width="94.00" height="32.78" fill="#EDCDCD"/>
<rect x="1164.00" y="1159.56" width="94.00" height="32.78" fill="#D9797A"/>
<rect x="1257.50" y="1159.56" width="94.00" height="32.78" fill="#C93737"/>
<rect x="1351.00" y="1159.56" width="94.00" height="32.78" fill="#DD8A8B"/>
<rect x="1444.50" y="1159.56" width="94.00" height="32.78" fill="#E5ACAC"/>
<rect x="1538.00" y="1159.56" width="94.00" height="32.78" fill="#EDCDCD"/>
<rect x="1631.50" y="1159.56" width="94.00" height="32.78" fill="#DFE4EE"/>
<rect x="1725.00" y="1159.56" width="94.00" height="32.78" fill="#CDD6E4"/>
<rect x="1818.50" y="1159.56" width="94.00" height="32.78" fill="#EDCDCD"/>
<rect x="1912.00" y="1159.56" width="94.00" height="32.78" fill="#D9797A"/>
<rect x="2005.50" y="1159.56" width="93.50" height="32.78" fill="#EDCDCD"/>
<rect x="229.00" y="1191.84" width="94.00" height="32.78" fill="#0C387A"/>
<rect x="322.50" y="1191.84" width="94.00" height="32.78" fill="#5372A2"/>
<rect x="416.00" y="1191.84" width="94.00" height="32.78" fill="#99ABC8"/>
<rect x="509.50" y="1191.84" width="187.50" height="32.78" fill="#BCC8DB"/>
<rect x="696.50" y="1191.84" width="94.00" height="32.78" fill="#F1DEDE"/>
<rect x="790.00" y="1191.84" width="94.00" height="32.78" fill="#F0F3F7"/>
<rect x="883.50" y="1191.84" width="94.00" height="32.78" fill="#E5ACAC"/>
<rect x="977.00" y="1191.84" width="94.00" height="32.78" fill="#F5EFEF"/>
<rect x="1070.50" y="1191.84" width="94.00" height="32.78" fill="#F1DEDE"/>
<rect x="1164.00" y="1191.84" width="94.00" height="32.78" fill="#D9797A"/>
<rect x="1257.50" y="1191.84" width="94.00" height="32.78" fill="#C93737"/>
<rect x="1351.00" y="1191.84" width="94.00" height="32.78" fill="#D9797A"/>
<rect x="1444.50" y="1191.84" width="94.00" height="32.78" fill="#F5EFEF"/>
<rect x="1538.00" y="1191.84" width="94.00" height="32.78" fill="#E9BCBD"/>
<rect x="1631.50" y="1191.84" width="94.00" height="32.78" fill="#DFE4EE"/>
<rect x="1725.00" y="1191.84" width="94.00" height="32.78" fill="#F1DEDE"/>
<rect x="1818.50" y="1191.84" width="94.00" height="32.78" fill="#E19B9B"/>
<rect x="1912.00" y="1191.84" width="94.00" height="32.78" fill="#F1DEDE"/>
<rect x="2005.50" y="1191.84" width="93.50" height="32.78" fill="#F5EFEF"/>
<rect x="229.00" y="1224.12" width="94.00" height="32.78" fill="#073477"/>
<rect x="322.50" y="1224.12" width="94.00" height="32.78" fill="#768EB5"/>
<rect x="416.00" y="1224.12" width="94.00" height="32.78" fill="#6580AC"/>
<rect x="509.50" y="1224.12" width="94.00" height="32.78" fill="#AAB9D1"/>
<rect x="603.00" y="1224.12" width="94.00" height="32.78" fill="#BCC8DB"/>
<rect x="696.50" y="1224.12" width="94.00" height="32.78" fill="#F0F3F7"/>
<rect x="790.00" y="1224.12" width="94.00" height="32.78" fill="#F1DEDE"/>
<rect x="883.50" y="1224.12" width="94.00" height="32.78" fill="#E9BCBD"/>
<rect x="977.00" y="1224.12" width="94.00" height="32.78" fill="#E5ACAC"/>
<rect x="1070.50" y="1224.12" width="94.00" height="32.78" fill="#E9BCBD"/>
<rect x="1164.00" y="1224.12" width="94.00" height="32.78" fill="#D9797A"/>
<rect x="1257.50" y="1224.12" width="94.00" height="32.78" fill="#DD8A8B"/>
<rect x="1351.00" y="1224.12" width="94.00" height="32.78" fill="#EDCDCD"/>
<rect x="1444.50" y="1224.12" width="94.00" height="32.78" fill="#DD8A8B"/>
<rect x="1538.00" y="1224.12" width="94.00" height="32.78" fill="#EDCDCD"/>
<rect x="1631.50" y="1224.12" width="94.00" height="32.78" fill="#DFE4EE"/>
<rect x="1725.00" y="1224.12" width="94.00" height="32.78" fill="#F5EFEF"/>
<rect x="1818.50" y="1224.12" width="94.00" height="32.78" fill="#E5ACAC"/>
<rect x="1912.00" y="1224.12" width="94.00" height="32.78" fill="#E9BCBD"/>
<rect x="2005.50" y="1224.12" width="93.50" height="32.78" fill="#EDCDCD"/>
<rect x="229.00" y="1256.40" width="94.00" height="32.78" fill="#053276"/>
<rect x="322.50" y="1256.40" width="94.00" height="32.78" fill="#AAB9D1"/>
<rect x="416.00" y="1256.40" width="94.00" height="32.78" fill="#99ABC8"/>
<rect x="509.50" y="1256.40" width="94.00" height="32.78" fill="#CDD6E4"/>
<rect x="603.00" y="1256.40" width="94.00" height="32.78" fill="#99ABC8"/>
<rect x="696.50" y="1256.40" width="94.00" height="32.78" fill="#CDD6E4"/>
<rect x="790.00" y="1256.40" width="94.00" height="32.78" fill="#E9BCBD"/>
<rect x="883.50" y="1256.40" width="94.00" height="32.78" fill="#EDCDCD"/>
<rect x="977.00" y="1256.40" width="94.00" height="32.78" fill="#E19B9B"/>
<rect x="1070.50" y="1256.40" width="94.00" height="32.78" fill="#E9BCBD"/>
<rect x="1164.00" y="1256.40" width="94.00" height="32.78" fill="#E19B9B"/>
<rect x="1257.50" y="1256.40" width="94.00" height="32.78" fill="#D9797A"/>
<rect x="1351.00" y="1256.40" width="94.00" height="32.78" fill="#E9BCBD"/>
<rect x="1444.50" y="1256.40" width="94.00" height="32.78" fill="#F1DEDE"/>
<rect x="1538.00" y="1256.40" width="94.00" height="32.78" fill="#F0F3F7"/>
<rect x="1631.50" y="1256.40" width="94.00" height="32.78" fill="#DFE4EE"/>
<rect x="1725.00" y="1256.40" width="94.00" height="32.78" fill="#E9BCBD"/>
<rect x="1818.50" y="1256.40" width="94.00" height="32.78" fill="#E19B9B"/>
<rect x="1912.00" y="1256.40" width="94.00" height="32.78" fill="#F1DEDE"/>
<rect x="2005.50" y="1256.40" width="93.50" height="32.78" fill="#E9BCBD"/>
<rect x="229.00" y="1288.68" width="94.00" height="32.78" fill="#0F3A7C"/>
<rect x="322.50" y="1288.68" width="94.00" height="32.78" fill="#99ABC8"/>
<rect x="416.00" y="1288.68" width="94.00" height="32.78" fill="#879DBE"/>
<rect x="509.50" y="1288.68" width="94.00" height="32.78" fill="#CDD6E4"/>
<rect x="603.00" y="1288.68" width="94.00" height="32.78" fill="#879DBE"/>
<rect x="696.50" y="1288.68" width="94.00" height="32.78" fill="#CDD6E4"/>
<rect x="790.00" y="1288.68" width="94.00" height="32.78" fill="#E9BCBD"/>
<rect x="883.50" y="1288.68" width="94.00" height="32.78" fill="#D9797A"/>
<rect x="977.00" y="1288.68" width="94.00" height="32.78" fill="#DD8A8B"/>
<rect x="1070.50" y="1288.68" width="94.00" height="32.78" fill="#F1DEDE"/>
<rect x="1164.00" y="1288.68" width="94.00" height="32.78" fill="#D9797A"/>
<rect x="1257.50" y="1288.68" width="94.00" height="32.78" fill="#C6292A"/>
<rect x="1351.00" y="1288.68" width="94.00" height="32.78" fill="#D9797A"/>
<rect x="1444.50" y="1288.68" width="94.00" height="32.78" fill="#BCC8DB"/>
<rect x="1538.00" y="1288.68" width="94.00" height="32.78" fill="#F0F3F7"/>
<rect x="1631.50" y="1288.68" width="94.00" height="32.78" fill="#F5EFEF"/>
<rect x="1725.00" y="1288.68" width="94.00" height="32.78" fill="#BCC8DB"/>
<rect x="1818.50" y="1288.68" width="94.00" height="32.78" fill="#EDCDCD"/>
<rect x="1912.00" y="1288.68" width="94.00" height="32.78" fill="#F5EFEF"/>
<rect x="2005.50" y="1288.68" width="93.50" height="32.78" fill="#EDCDCD"/>
<rect x="229.00" y="1320.96" width="94.00" height="32.78" fill="#0F3A7C"/>
<rect x="322.50" y="1320.96" width="94.00" height="32.78" fill="#AAB9D1"/>
<rect x="416.00" y="1320.96" width="187.50" height="32.78" fill="#6580AC"/>
<rect x="603.00" y="1320.96" width="94.00" height="32.78" fill="#879DBE"/>
<rect x="696.50" y="1320.96" width="94.00" height="32.78" fill="#F0F3F7"/>
<rect x="790.00" y="1320.96" width="94.00" height="32.78" fill="#EDCDCD"/>
<rect x="883.50" y="1320.96" width="374.50" height="32.78" fill="#E5ACAC"/>
<rect x="1257.50" y="1320.96" width="94.00" height="32.78" fill="#D15859"/>
<rect x="1351.00" y="1320.96" width="94.00" height="32.78" fill="#CD4748"/>
<rect x="1444.50" y="1320.96" width="94.00" height="32.78" fill="#F0F3F7"/>
<rect x="1538.00" y="1320.96" width="94.00" height="32.78" fill="#DFE4EE"/>
<rect x="1631.50" y="1320.96" width="94.00" height="32.78" fill="#CDD6E4"/>
<rect x="1725.00" y="1320.96" width="187.50" height="32.78" fill="#EDCDCD"/>
<rect x="1912.00" y="1320.96" width="94.00" height="32.78" fill="#F1DEDE"/>
<rect x="2005.50" y="1320.96" width="93.50" height="32.78" fill="#E19B9B"/>
<rect x="229.00" y="1353.24" width="187.50" height="32.78" fill="#6580AC"/>
<rect x="416.00" y="1353.24" width="94.00" height="32.78" fill="#30558F"/>
<rect x="509.50" y="1353.24" width="94.00" height="32.78" fill="#BCC8DB"/>
<rect x="603.00" y="1353.24" width="94.00" height="32.78" fill="#426399"/>
<rect x="696.50" y="1353.24" width="187.50" height="32.78" fill="#EDCDCD"/>
<rect x="883.50" y="1353.24" width="94.00" height="32.78" fill="#DFE4EE"/>
<rect x="977.00" y="1353.24" width="94.00" height="32.78" fill="#D56969"/>
<rect x="1070.50" y="1353.24" width="187.50" height="32.78" fill="#D15859"/>
<rect x="1257.50" y="1353.24" width="94.00" height="32.78" fill="#C6292A"/>
<rect x="1351.00" y="1353.24" width="94.00" height="32.78" fill="#E9BCBD"/>
<rect x="1444.50" y="1353.24" width="94.00" height="32.78" fill="#F0F3F7"/>
<rect x="1538.00" y="1353.24" width="94.00" height="32.78" fill="#F1DEDE"/>
<rect x="1631.50" y="1353.24" width="94.00" height="32.78" fill="#879DBE"/>
<rect x="1725.00" y="1353.24" width="94.00" height="32.78" fill="#AAB9D1"/>
<rect x="1818.50" y="1353.24" width="94.00" height="32.78" fill="#F0F3F7"/>
<rect x="1912.00" y="1353.24" width="94.00" height="32.78" fill="#DD8A8B"/>
<rect x="2005.50" y="1353.24" width="93.50" height="32.78" fill="#EDCDCD"/>
<rect x="229.00" y="1385.52" width="94.00" height="32.78" fill="#164080"/>
<rect x="322.50" y="1385.52" width="94.00" height="32.78" fill="#6580AC"/>
<rect x="416.00" y="1385.52" width="94.00" height="32.78" fill="#224A88"/>
<rect x="509.50" y="1385.52" width="94.00" height="32.78" fill="#EDCDCD"/>
<rect x="603.00" y="1385.52" width="94.00" height="32.78" fill="#BCC8DB"/>
<rect x="696.50" y="1385.52" width="94.00" height="32.78" fill="#E5ACAC"/>
<rect x="790.00" y="1385.52" width="94.00" height="32.78" fill="#E9BCBD"/>
<rect x="883.50" y="1385.52" width="94.00" height="32.78" fill="#F5EFEF"/>
<rect x="977.00" y="1385.52" width="94.00" height="32.78" fill="#DD8A8B"/>
<rect x="1070.50" y="1385.52" width="94.00" height="32.78" fill="#E9BCBD"/>
<rect x="1164.00" y="1385.52" width="94.00" height="32.78" fill="#D15859"/>
<rect x="1257.50" y="1385.52" width="94.00" height="32.78" fill="#E9BCBD"/>
<rect x="1351.00" y="1385.52" width="94.00" height="32.78" fill="#C93737"/>
<rect x="1444.50" y="1385.52" width="94.00" height="32.78" fill="#E5ACAC"/>
<rect x="1538.00" y="1385.52" width="94.00" height="32.78" fill="#CDD6E4"/>
<rect x="1631.50" y="1385.52" width="94.00" height="32.78" fill="#879DBE"/>
<rect x="1725.00" y="1385.52" width="94.00" height="32.78" fill="#F1DEDE"/>
<rect x="1818.50" y="1385.52" width="94.00" height="32.78" fill="#F0F3F7"/>
<rect x="1912.00" y="1385.52" width="94.00" height="32.78" fill="#F5EFEF"/>
<rect x="2005.50" y="1385.52" width="93.50" height="32.78" fill="#F0F3F7"/>
<rect x="229.00" y="1417.80" width="94.00" height="32.78" fill="#204886"/>
<rect x="322.50" y="1417.80" width="187.50" height="32.78" fill="#1D4685"/>
<rect x="509.50" y="1417.80" width="94.00" height="32.78" fill="#BCC8DB"/>
<rect x="603.00" y="1417.80" width="94.00" height="32.78" fill="#F0F3F7"/>
<rect x="696.50" y="1417.80" width="94.00" height="32.78" fill="#E9BCBD"/>
<rect x="790.00" y="1417.80" width="94.00" height="32.78" fill="#E5ACAC"/>
<rect x="883.50" y="1417.80" width="281.00" height="32.78" fill="#E19B9B"/>
<rect x="1164.00" y="1417.80" width="94.00" height="32.78" fill="#E9BCBD"/>
<rect x="1257.50" y="1417.80" width="281.00" height="32.78" fill="#DD8A8B"/>
<rect x="1538.00" y="1417.80" width="94.00" height="32.78" fill="#E5ACAC"/>
<rect x="1631.50" y="1417.80" width="94.00" height="32.78" fill="#99ABC8"/>
<rect x="1725.00" y="1417.80" width="94.00" height="32.78" fill="#879DBE"/>
<rect x="1818.50" y="1417.80" width="94.00" height="32.78" fill="#E9BCBD"/>
<rect x="1912.00" y="1417.80" width="94.00" height="32.78" fill="#F1DEDE"/>
<rect x="2005.50" y="1417.80" width="93.50" height="32.78" fill="#F5EFEF"/>
<rect x="229.00" y="1450.08" width="94.00" height="32.78" fill="#194282"/>
<rect x="322.50" y="1450.08" width="94.00" height="32.78" fill="#426399"/>
<rect x="416.00" y="1450.08" width="94.00" height="32.78" fill="#30558F"/>
<rect x="509.50" y="1450.08" width="94.00" height="32.78" fill="#CDD6E4"/>
<rect x="603.00" y="1450.08" width="94.00" height="32.78" fill="#F0F3F7"/>
<rect x="696.50" y="1450.08" width="94.00" height="32.78" fill="#E9BCBD"/>
<rect x="790.00" y="1450.08" width="94.00" height="32.78" fill="#E5ACAC"/>
<rect x="883.50" y="1450.08" width="187.50" height="32.78" fill="#E19B9B"/>
<rect x="1070.50" y="1450.08" width="94.00" height="32.78" fill="#DD8A8B"/>
<rect x="1164.00" y="1450.08" width="94.00" height="32.78" fill="#E19B9B"/>
<rect x="1257.50" y="1450.08" width="94.00" height="32.78" fill="#D9797A"/>
<rect x="1351.00" y="1450.08" width="94.00" height="32.78" fill="#D15859"/>
<rect x="1444.50" y="1450.08" width="94.00" height="32.78" fill="#E5ACAC"/>
<rect x="1538.00" y="1450.08" width="94.00" height="32.78" fill="#EDCDCD"/>
<rect x="1631.50" y="1450.08" width="94.00" height="32.78" fill="#AAB9D1"/>
<rect x="1725.00" y="1450.08" width="94.00" height="32.78" fill="#768EB5"/>
<rect x="1818.50" y="1450.08" width="94.00" height="32.78" fill="#EDCDCD"/>
<rect x="1912.00" y="1450.08" width="94.00" height="32.78" fill="#CDD6E4"/>
<rect x="2005.50" y="1450.08" width="93.50" height="32.78" fill="#F0F3F7"/>
<rect x="229.00" y="1482.36" width="94.00" height="32.78" fill="#30558F"/>
<rect x="322.50" y="1482.36" width="94.00" height="32.78" fill="#224A88"/>
<rect x="416.00" y="1482.36" width="94.00" height="32.78" fill="#204886"/>
<rect x="509.50" y="1482.36" width="94.00" height="32.78" fill="#CDD6E4"/>
<rect x="603.00" y="1482.36" width="94.00" height="32.78" fill="#F5EFEF"/>
<rect x="696.50" y="1482.36" width="94.00" height="32.78" fill="#E19B9B"/>
<rect x="790.00" y="1482.36" width="94.00" height="32.78" fill="#E5ACAC"/>
<rect x="883.50" y="1482.36" width="281.00" height="32.78" fill="#DD8A8B"/>
<rect x="1164.00" y="1482.36" width="94.00" height="32.78" fill="#E9BCBD"/>
<rect x="1257.50" y="1482.36" width="94.00" height="32.78" fill="#D15859"/>
<rect x="1351.00" y="1482.36" width="94.00" height="32.78" fill="#CD4748"/>
<rect x="1444.50" y="1482.36" width="94.00" height="32.78" fill="#EDCDCD"/>
<rect x="1538.00" y="1482.36" width="94.00" height="32.78" fill="#F0F3F7"/>
<rect x="1631.50" y="1482.36" width="94.00" height="32.78" fill="#879DBE"/>
<rect x="1725.00" y="1482.36" width="94.00" height="32.78" fill="#99ABC8"/>
<rect x="1818.50" y="1482.36" width="94.00" height="32.78" fill="#F5EFEF"/>
<rect x="1912.00" y="1482.36" width="187.00" height="32.78" fill="#DFE4EE"/>
<rect x="229.00" y="1514.64" width="94.00" height="32.78" fill="#1D4685"/>
<rect x="322.50" y="1514.64" width="94.00" height="32.78" fill="#30558F"/>
<rect x="416.00" y="1514.64" width="94.00" height="32.78" fill="#224A88"/>
<rect x="509.50" y="1514.64" width="187.50" height="32.78" fill="#F5EFEF"/>
<rect x="696.50" y="1514.64" width="94.00" height="32.78" fill="#E9BCBD"/>
<rect x="790.00" y="1514.64" width="94.00" height="32.78" fill="#DD8A8B"/>
<rect x="883.50" y="1514.64" width="187.50" height="32.78" fill="#D9797A"/>
<rect x="1070.50" y="1514.64" width="94.00" height="32.78" fill="#DD8A8B"/>
<rect x="1164.00" y="1514.64" width="94.00" height="32.78" fill="#E9BCBD"/>
<rect x="1257.50" y="1514.64" width="94.00" height="32.78" fill="#D9797A"/>
<rect x="1351.00" y="1514.64" width="94.00" height="32.78" fill="#D56969"/>
<rect x="1444.50" y="1514.64" width="94.00" height="32.78" fill="#F1DEDE"/>
<rect x="1538.00" y="1514.64" width="94.00" height="32.78" fill="#F0F3F7"/>
<rect x="1631.50" y="1514.64" width="94.00" height="32.78" fill="#99ABC8"/>
<rect x="1725.00" y="1514.64" width="94.00" height="32.78" fill="#879DBE"/>
<rect x="1818.50" y="1514.64" width="94.00" height="32.78" fill="#F0F3F7"/>
<rect x="1912.00" y="1514.64" width="187.00" height="32.78" fill="#DFE4EE"/>
<rect x="229.00" y="1546.92" width="94.00" height="32.78" fill="#194282"/>
<rect x="322.50" y="1546.92" width="94.00" height="32.78" fill="#30558F"/>
<rect x="416.00" y="1546.92" width="94.00" height="32.78" fill="#224A88"/>
<rect x="509.50" y="1546.92" width="94.00" height="32.78" fill="#F0F3F7"/>
<rect x="603.00" y="1546.92" width="94.00" height="32.78" fill="#BCC8DB"/>
<rect x="696.50" y="1546.92" width="94.00" height="32.78" fill="#F0F3F7"/>
<rect x="790.00" y="1546.92" width="187.50" height="32.78" fill="#E9BCBD"/>
<rect x="977.00" y="1546.92" width="94.00" height="32.78" fill="#D9797A"/>
<rect x="1070.50" y="1546.92" width="94.00" height="32.78" fill="#E5ACAC"/>
<rect x="1164.00" y="1546.92" width="94.00" height="32.78" fill="#DD8A8B"/>
<rect x="1257.50" y="1546.92" width="94.00" height="32.78" fill="#D9797A"/>
<rect x="1351.00" y="1546.92" width="94.00" height="32.78" fill="#E9BCBD"/>
<rect x="1444.50" y="1546.92" width="94.00" height="32.78" fill="#E5ACAC"/>
<rect x="1538.00" y="1546.92" width="94.00" height="32.78" fill="#F1DEDE"/>
<rect x="1631.50" y="1546.92" width="187.50" height="32.78" fill="#BCC8DB"/>
<rect x="1818.50" y="1546.92" width="94.00" height="32.78" fill="#D9797A"/>
<rect x="1912.00" y="1546.92" width="94.00" height="32.78" fill="#EDCDCD"/>
<rect x="2005.50" y="1546.92" width="93.50" height="32.78" fill="#F5EFEF"/>
<rect x="229.00" y="1579.20" width="94.00" height="32.78" fill="#143E7F"/>
<rect x="322.50" y="1579.20" width="94.00" height="32.78" fill="#5372A2"/>
<rect x="416.00" y="1579.20" width="94.00" height="32.78" fill="#426399"/>
<rect x="509.50" y="1579.20" width="94.00" height="32.78" fill="#DFE4EE"/>
<rect x="603.00" y="1579.20" width="94.00" height="32.78" fill="#CDD6E4"/>
<rect x="696.50" y="1579.20" width="94.00" height="32.78" fill="#F5EFEF"/>
<rect x="790.00" y="1579.20" width="94.00" height="32.78" fill="#E19B9B"/>
<rect x="883.50" y="1579.20" width="94.00" height="32.78" fill="#DD8A8B"/>
<rect x="977.00" y="1579.20" width="94.00" height="32.78" fill="#D9797A"/>
<rect x="1070.50" y="1579.20" width="94.00" height="32.78" fill="#E5ACAC"/>
<rect x="1164.00" y="1579.20" width="94.00" height="32.78" fill="#E19B9B"/>
<rect x="1257.50" y="1579.20" width="94.00" height="32.78" fill="#D15859"/>
<rect x="1351.00" y="1579.20" width="94.00" height="32.78" fill="#E5ACAC"/>
<rect x="1444.50" y="1579.20" width="94.00" height="32.78" fill="#EDCDCD"/>
<rect x="1538.00" y="1579.20" width="94.00" height="32.78" fill="#F0F3F7"/>
<rect x="1631.50" y="1579.20" width="187.50" height="32.78" fill="#BCC8DB"/>
<rect x="1818.50" y="1579.20" width="94.00" height="32.78" fill="#DD8A8B"/>
<rect x="1912.00" y="1579.20" width="94.00" height="32.78" fill="#F0F3F7"/>
<rect x="2005.50" y="1579.20" width="93.50" height="32.78" fill="#DFE4EE"/>
<rect x="229.00" y="1611.48" width="94.00" height="32.78" fill="#113C7D"/>
<rect x="322.50" y="1611.48" width="94.00" height="32.78" fill="#5372A2"/>
<rect x="416.00" y="1611.48" width="94.00" height="32.78" fill="#30558F"/>
<rect x="509.50" y="1611.48" width="94.00" height="32.78" fill="#CDD6E4"/>
<rect x="603.00" y="1611.48" width="94.00" height="32.78" fill="#DFE4EE"/>
<rect x="696.50" y="1611.48" width="187.50" height="32.78" fill="#E9BCBD"/>
<rect x="883.50" y="1611.48" width="94.00" height="32.78" fill="#DD8A8B"/>
<rect x="977.00" y="1611.48" width="187.50" height="32.78" fill="#E5ACAC"/>
<rect x="1164.00" y="1611.48" width="94.00" height="32.78" fill="#E19B9B"/>
<rect x="1257.50" y="1611.48" width="94.00" height="32.78" fill="#D56969"/>
<rect x="1351.00" y="1611.48" width="94.00" height="32.78" fill="#D9797A"/>
<rect x="1444.50" y="1611.48" width="94.00" height="32.78" fill="#E9BCBD"/>
<rect x="1538.00" y="1611.48" width="94.00" height="32.78" fill="#F5EFEF"/>
<rect x="1631.50" y="1611.48" width="187.50" height="32.78" fill="#BCC8DB"/>
<rect x="1818.50" y="1611.48" width="187.50" height="32.78" fill="#F1DEDE"/>
<rect x="2005.50" y="1611.48" width="93.50" height="32.78" fill="#F5EFEF"/>
<rect x="229.00" y="1643.76" width="94.00" height="32.78" fill="#1D4685"/>
<rect x="322.50" y="1643.76" width="94.00" height="32.78" fill="#6580AC"/>
<rect x="416.00" y="1643.76" width="94.00" height="32.78" fill="#224A88"/>
<rect x="509.50" y="1643.76" width="94.00" height="32.78" fill="#768EB5"/>
<rect x="603.00" y="1643.76" width="94.00" height="32.78" fill="#AAB9D1"/>
<rect x="696.50" y="1643.76" width="94.00" height="32.78" fill="#F5EFEF"/>
<rect x="790.00" y="1643.76" width="94.00" height="32.78" fill="#E9BCBD"/>
<rect x="883.50" y="1643.76" width="94.00" height="32.78" fill="#DD8A8B"/>
<rect x="977.00" y="1643.76" width="94.00" height="32.78" fill="#E5ACAC"/>
<rect x="1070.50" y="1643.76" width="94.00" height="32.78" fill="#D56969"/>
<rect x="1164.00" y="1643.76" width="94.00" height="32.78" fill="#DD8A8B"/>
<rect x="1257.50" y="1643.76" width="94.00" height="32.78" fill="#D56969"/>
<rect x="1351.00" y="1643.76" width="94.00" height="32.78" fill="#D15859"/>
<rect x="1444.50" y="1643.76" width="94.00" height="32.78" fill="#E5ACAC"/>
<rect x="1538.00" y="1643.76" width="94.00" height="32.78" fill="#F5EFEF"/>
<rect x="1631.50" y="1643.76" width="94.00" height="32.78" fill="#CDD6E4"/>
<rect x="1725.00" y="1643.76" width="94.00" height="32.78" fill="#BCC8DB"/>
<rect x="1818.50" y="1643.76" width="94.00" height="32.78" fill="#EDCDCD"/>
<rect x="1912.00" y="1643.76" width="94.00" height="32.78" fill="#F0F3F7"/>
<rect x="2005.50" y="1643.76" width="93.50" height="32.78" fill="#DFE4EE"/>
<rect x="229.00" y="1676.04" width="94.00" height="32.78" fill="#AAB9D1"/>
<rect x="322.50" y="1676.04" width="187.50" height="32.78" fill="#768EB5"/>
<rect x="509.50" y="1676.04" width="94.00" height="32.78" fill="#E5ACAC"/>
<rect x="603.00" y="1676.04" width="94.00" height="32.78" fill="#768EB5"/>
<rect x="696.50" y="1676.04" width="94.00" height="32.78" fill="#E9BCBD"/>
<rect x="790.00" y="1676.04" width="281.00" height="32.78" fill="#AAB9D1"/>
<rect x="1070.50" y="1676.04" width="94.00" height="32.78" fill="#768EB5"/>
<rect x="1164.00" y="1676.04" width="94.00" height="32.78" fill="#D9797A"/>
<rect x="1257.50" y="1676.04" width="187.50" height="32.78" fill="#AAB9D1"/>
<rect x="1444.50" y="1676.04" width="94.00" height="32.78" fill="#D9797A"/>
<rect x="1538.00" y="1676.04" width="94.00" height="32.78" fill="#E19B9B"/>
<rect x="1631.50" y="1676.04" width="94.00" height="32.78" fill="#AAB9D1"/>
<rect x="1725.00" y="1676.04" width="94.00" height="32.78" fill="#BCC8DB"/>
<rect x="1818.50" y="1676.04" width="94.00" height="32.78" fill="#D56969"/>
<rect x="1912.00" y="1676.04" width="94.00" height="32.78" fill="#C52728"/>
<rect x="2005.50" y="1676.04" width="93.50" height="32.78" fill="#C52526"/>
<rect x="229.00" y="1708.32" width="94.00" height="32.78" fill="#6580AC"/>
<rect x="322.50" y="1708.32" width="94.00" height="32.78" fill="#224A88"/>
<rect x="416.00" y="1708.32" width="94.00" height="32.78" fill="#AAB9D1"/>
<rect x="509.50" y="1708.32" width="94.00" height="32.78" fill="#F5EFEF"/>
<rect x="603.00" y="1708.32" width="94.00" height="32.78" fill="#113C7D"/>
<rect x="696.50" y="1708.32" width="94.00" height="32.78" fill="#F0F3F7"/>
<rect x="790.00" y="1708.32" width="94.00" height="32.78" fill="#DD8A8B"/>
<rect x="883.50" y="1708.32" width="94.00" height="32.78" fill="#F0F3F7"/>
<rect x="977.00" y="1708.32" width="94.00" height="32.78" fill="#E9BCBD"/>
<rect x="1070.50" y="1708.32" width="94.00" height="32.78" fill="#E5ACAC"/>
<rect x="1164.00" y="1708.32" width="94.00" height="32.78" fill="#AAB9D1"/>
<rect x="1257.50" y="1708.32" width="94.00" height="32.78" fill="#F1DEDE"/>
<rect x="1351.00" y="1708.32" width="94.00" height="32.78" fill="#E5ACAC"/>
<rect x="1444.50" y="1708.32" width="94.00" height="32.78" fill="#C52728"/>
<rect x="1538.00" y="1708.32" width="94.00" height="32.78" fill="#F0F3F7"/>
<rect x="1631.50" y="1708.32" width="94.00" height="32.78" fill="#F1DEDE"/>
<rect x="1725.00" y="1708.32" width="94.00" height="32.78" fill="#DD8A8B"/>
<rect x="1818.50" y="1708.32" width="94.00" height="32.78" fill="#E9BCBD"/>
<rect x="1912.00" y="1708.32" width="187.00" height="32.78" fill="#EDCDCD"/>
<rect x="229.00" y="1740.60" width="94.00" height="32.78" fill="#426399"/>
<rect x="322.50" y="1740.60" width="94.00" height="32.78" fill="#1B4483"/>
<rect x="416.00" y="1740.60" width="94.00" height="32.78" fill="#CDD6E4"/>
<rect x="509.50" y="1740.60" width="94.00" height="32.78" fill="#E19B9B"/>
<rect x="603.00" y="1740.60" width="94.00" height="32.78" fill="#5372A2"/>
<rect x="696.50" y="1740.60" width="94.00" height="32.78" fill="#768EB5"/>
<rect x="790.00" y="1740.60" width="94.00" height="32.78" fill="#E5ACAC"/>
<rect x="883.50" y="1740.60" width="94.00" height="32.78" fill="#F0F3F7"/>
<rect x="977.00" y="1740.60" width="94.00" height="32.78" fill="#E9BCBD"/>
<rect x="1070.50" y="1740.60" width="94.00" height="32.78" fill="#F5EFEF"/>
<rect x="1164.00" y="1740.60" width="94.00" height="32.78" fill="#E19B9B"/>
<rect x="1257.50" y="1740.60" width="94.00" height="32.78" fill="#F1DEDE"/>
<rect x="1351.00" y="1740.60" width="94.00" height="32.78" fill="#BCC8DB"/>
<rect x="1444.50" y="1740.60" width="94.00" height="32.78" fill="#DD8A8B"/>
<rect x="1538.00" y="1740.60" width="94.00" height="32.78" fill="#CDD6E4"/>
<rect x="1631.50" y="1740.60" width="94.00" height="32.78" fill="#F0F3F7"/>
<rect x="1725.00" y="1740.60" width="94.00" height="32.78" fill="#C93737"/>
<rect x="1818.50" y="1740.60" width="94.00" height="32.78" fill="#CD4748"/>
<rect x="1912.00" y="1740.60" width="94.00" height="32.78" fill="#F1DEDE"/>
<rect x="2005.50" y="1740.60" width="93.50" height="32.78" fill="#E5ACAC"/>
<rect x="229.00" y="1772.88" width="94.00" height="32.78" fill="#768EB5"/>
<rect x="322.50" y="1772.88" width="94.00" height="32.78" fill="#879DBE"/>
<rect x="416.00" y="1772.88" width="94.00" height="32.78" fill="#1B4483"/>
<rect x="509.50" y="1772.88" width="94.00" height="32.78" fill="#F0F3F7"/>
<rect x="603.00" y="1772.88" width="94.00" height="32.78" fill="#30558F"/>
<rect x="696.50" y="1772.88" width="94.00" height="32.78" fill="#6580AC"/>
<rect x="790.00" y="1772.88" width="94.00" height="32.78" fill="#DFE4EE"/>
<rect x="883.50" y="1772.88" width="94.00" height="32.78" fill="#E5ACAC"/>
<rect x="977.00" y="1772.88" width="94.00" height="32.78" fill="#E19B9B"/>
<rect x="1070.50" y="1772.88" width="187.50" height="32.78" fill="#EDCDCD"/>
<rect x="1257.50" y="1772.88" width="94.00" height="32.78" fill="#E5ACAC"/>
<rect x="1351.00" y="1772.88" width="187.50" height="32.78" fill="#F0F3F7"/>
<rect x="1538.00" y="1772.88" width="94.00" height="32.78" fill="#BCC8DB"/>
<rect x="1631.50" y="1772.88" width="94.00" height="32.78" fill="#DD8A8B"/>
<rect x="1725.00" y="1772.88" width="94.00" height="32.78" fill="#E19B9B"/>
<rect x="1818.50" y="1772.88" width="94.00" height="32.78" fill="#C52728"/>
<rect x="1912.00" y="1772.88" width="94.00" height="32.78" fill="#D15859"/>
<rect x="2005.50" y="1772.88" width="93.50" height="32.78" fill="#EDCDCD"/>
<rect x="229.00" y="1805.16" width="94.00" height="32.78" fill="#768EB5"/>
<rect x="322.50" y="1805.16" width="94.00" height="32.78" fill="#426399"/>
<rect x="416.00" y="1805.16" width="94.00" height="32.78" fill="#164080"/>
<rect x="509.50" y="1805.16" width="187.50" height="32.78" fill="#BCC8DB"/>
<rect x="696.50" y="1805.16" width="94.00" height="32.78" fill="#879DBE"/>
<rect x="790.00" y="1805.16" width="94.00" height="32.78" fill="#EDCDCD"/>
<rect x="883.50" y="1805.16" width="94.00" height="32.78" fill="#F0F3F7"/>
<rect x="977.00" y="1805.16" width="94.00" height="32.78" fill="#E9BCBD"/>
<rect x="1070.50" y="1805.16" width="94.00" height="32.78" fill="#F0F3F7"/>
<rect x="1164.00" y="1805.16" width="94.00" height="32.78" fill="#DD8A8B"/>
<rect x="1257.50" y="1805.16" width="94.00" height="32.78" fill="#F0F3F7"/>
<rect x="1351.00" y="1805.16" width="94.00" height="32.78" fill="#F5EFEF"/>
<rect x="1444.50" y="1805.16" width="187.50" height="32.78" fill="#C93737"/>
<rect x="1631.50" y="1805.16" width="94.00" height="32.78" fill="#E9BCBD"/>
<rect x="1725.00" y="1805.16" width="94.00" height="32.78" fill="#F0F3F7"/>
<rect x="1818.50" y="1805.16" width="94.00" height="32.78" fill="#E19B9B"/>
<rect x="1912.00" y="1805.16" width="94.00" height="32.78" fill="#E5ACAC"/>
<rect x="2005.50" y="1805.16" width="93.50" height="32.78" fill="#F1DEDE"/>
<rect x="229.00" y="1837.44" width="94.00" height="32.78" fill="#164080"/>
<rect x="322.50" y="1837.44" width="94.00" height="32.78" fill="#768EB5"/>
<rect x="416.00" y="1837.44" width="94.00" height="32.78" fill="#99ABC8"/>
<rect x="509.50" y="1837.44" width="187.50" height="32.78" fill="#6580AC"/>
<rect x="696.50" y="1837.44" width="94.00" height="32.78" fill="#CDD6E4"/>
<rect x="790.00" y="1837.44" width="94.00" height="32.78" fill="#BCC8DB"/>
<rect x="883.50" y="1837.44" width="94.00" height="32.78" fill="#F1DEDE"/>
<rect x="977.00" y="1837.44" width="94.00" height="32.78" fill="#CDD6E4"/>
<rect x="1070.50" y="1837.44" width="94.00" height="32.78" fill="#DFE4EE"/>
<rect x="1164.00" y="1837.44" width="94.00" height="32.78" fill="#D15859"/>
<rect x="1257.50" y="1837.44" width="94.00" height="32.78" fill="#EDCDCD"/>
<rect x="1351.00" y="1837.44" width="94.00" height="32.78" fill="#E9BCBD"/>
<rect x="1444.50" y="1837.44" width="94.00" height="32.78" fill="#D15859"/>
<rect x="1538.00" y="1837.44" width="94.00" height="32.78" fill="#E5ACAC"/>
<rect x="1631.50" y="1837.44" width="187.50" height="32.78" fill="#EDCDCD"/>
<rect x="1818.50" y="1837.44" width="94.00" height="32.78" fill="#D15859"/>
<rect x="1912.00" y="1837.44" width="94.00" height="32.78" fill="#D9797A"/>
<rect x="2005.50" y="1837.44" width="93.50" height="32.78" fill="#E5ACAC"/>
<rect x="229.00" y="1869.72" width="94.00" height="32.28" fill="#164080"/>
<rect x="322.50" y="1869.72" width="94.00" height="32.28" fill="#768EB5"/>
<rect x="416.00" y="1869.72" width="187.50" height="32.28" fill="#5372A2"/>
<rect x="603.00" y="1869.72" width="94.00" height="32.28" fill="#AAB9D1"/>
<rect x="696.50" y="1869.72" width="94.00" height="32.28" fill="#BCC8DB"/>
<rect x="790.00" y="1869.72" width="187.50" height="32.28" fill="#E5ACAC"/>
<rect x="977.00" y="1869.72" width="94.00" height="32.28" fill="#CDD6E4"/>
<rect x="1070.50" y="1869.72" width="94.00" height="32.28" fill="#EDCDCD"/>
<rect x="1164.00" y="1869.72" width="94.00" height="32.28" fill="#D15859"/>
<rect x="1257.50" y="1869.72" width="94.00" height="32.28" fill="#E9BCBD"/>
<rect x="1351.00" y="1869.72" width="94.00" height="32.28" fill="#D56969"/>
<rect x="1444.50" y="1869.72" width="94.00" height="32.28" fill="#E5ACAC"/>
<rect x="1538.00" y="1869.72" width="94.00" height="32.28" fill="#F0F3F7"/>
<rect x="1631.50" y="1869.72" width="94.00" height="32.28" fill="#E9BCBD"/>
<rect x="1725.00" y="1869.72" width="94.00" height="32.28" fill="#EDCDCD"/>
<rect x="1818.50" y="1869.72" width="94.00" height="32.28" fill="#F1DEDE"/>
<rect x="1912.00" y="1869.72" width="94.00" height="32.28" fill="#E5ACAC"/>
<rect x="2005.50" y="1869.72" width="93.50" height="32.28" fill="#DD8A8B"/>
</g>
<g class="d">
<path d="M369.25 288.00 L369.25 239.50 L462.75 239.50 L462.75 288.00"/>
<path d="M275.75 288.00 L275.75 208.00 L416.00 208.00 L416.00 239.50"/>
<path d="M649.75 288.00 L649.75 230.30 L743.25 230.30 L743.25 288.00"/>
<path d="M556.25 288.00 L556.25 225.00 L696.50 225.00 L696.50 230.30"/>
<path d="M836.75 288.00 L836.75 256.70 L930.25 256.70 L930.25 288.00"/>
<path d="M1023.75 288.00 L1023.75 255.50 L1117.25 255.50 L1117.25 288.00"/>
<path d="M883.50 256.70 L883.50 251.20 L1070.50 251.20 L1070.50 255.50"/>
<path d="M1304.25 288.00 L1304.25 240.20 L1397.75 240.20 L1397.75 288.00"/>
<path d="M1210.75 288.00 L1210.75 234.00 L1351.00 234.00 L1351.00 240.20"/>
<path d="M977.00 251.20 L977.00 229.80 L1280.88 229.80 L1280.88 234.00"/>
<path d="M1491.25 288.00 L1491.25 230.90 L1584.75 230.90 L1584.75 288.00"/>
<path d="M1678.25 288.00 L1678.25 242.10 L1771.75 242.10 L1771.75 288.00"/>
<path d="M1958.75 288.00 L1958.75 253.80 L2052.25 253.80 L2052.25 288.00"/>
<path d="M1865.25 288.00 L1865.25 235.10 L2005.50 235.10 L2005.50 253.80"/>
<path d="M1725.00 242.10 L1725.00 218.80 L1935.38 218.80 L1935.38 235.10"/>
<path d="M1538.00 230.90 L1538.00 211.00 L1830.19 211.00 L1830.19 218.80"/>
<path d="M1128.94 229.80 L1128.94 196.40 L1684.09 196.40 L1684.09 211.00"/>
<path d="M626.38 225.00 L626.38 160.20 L1406.52 160.20 L1406.52 196.40"/>
<path d="M345.88 208.00 L345.88 69.20 L1016.45 69.20 L1016.45 160.20"/>
<path d="M229.00 304.14 L149.00 304.14 L149.00 336.42 L229.00 336.42"/>
<path d="M229.00 400.98 L184.80 400.98 L184.80 433.26 L229.00 433.26"/>
<path d="M229.00 465.54 L183.90 465.54 L183.90 497.82 L229.00 497.82"/>
<path d="M184.80 417.12 L173.30 417.12 L173.30 481.68 L183.90 481.68"/>
<path d="M229.00 368.70 L154.50 368.70 L154.50 449.40 L173.30 449.40"/>
<path d="M229.00 562.38 L198.50 562.38 L198.50 594.66 L229.00 594.66"/>
<path d="M229.00 530.10 L176.50 530.10 L176.50 578.52 L198.50 578.52"/>
<path d="M229.00 626.94 L189.20 626.94 L189.20 659.22 L229.00 659.22"/>
<path d="M229.00 691.50 L169.30 691.50 L169.30 723.78 L229.00 723.78"/>
<path d="M189.20 643.08 L168.00 643.08 L168.00 707.64 L169.30 707.64"/>
<path d="M176.50 554.31 L151.30 554.31 L151.30 675.36 L168.00 675.36"/>
<path d="M154.50 409.05 L133.70 409.05 L133.70 614.84 L151.30 614.84"/>
<path d="M149.00 320.28 L126.00 320.28 L126.00 511.94 L133.70 511.94"/>
<path d="M229.00 788.34 L160.50 788.34 L160.50 820.62 L229.00 820.62"/>
<path d="M229.00 852.90 L155.50 852.90 L155.50 885.18 L229.00 885.18"/>
<path d="M160.50 804.48 L146.90 804.48 L146.90 869.04 L155.50 869.04"/>
<path d="M229.00 756.06 L124.00 756.06 L124.00 836.76 L146.90 836.76"/>
<path d="M126.00 416.11 L116.10 416.11 L116.10 796.41 L124.00 796.41"/>
<path d="M229.00 982.02 L198.30 982.02 L198.30 1014.30 L229.00 1014.30"/>
<path d="M229.00 949.74 L178.00 949.74 L178.00 998.16 L198.30 998.16"/>
<path d="M229.00 917.46 L168.60 917.46 L168.60 973.95 L178.00 973.95"/>
<path d="M229.00 1111.14 L174.20 1111.14 L174.20 1143.42 L229.00 1143.42"/>
<path d="M229.00 1078.86 L164.50 1078.86 L164.50 1127.28 L174.20 1127.28"/>
<path d="M229.00 1046.58 L144.30 1046.58 L144.30 1103.07 L164.50 1103.07"/>
<path d="M229.00 1175.70 L183.00 1175.70 L183.00 1207.98 L229.00 1207.98"/>
<path d="M229.00 1240.26 L194.40 1240.26 L194.40 1272.54 L229.00 1272.54"/>
<path d="M229.00 1304.82 L184.40 1304.82 L184.40 1337.10 L229.00 1337.10"/>
<path d="M194.40 1256.40 L170.30 1256.40 L170.30 1320.96 L184.40 1320.96"/>
<path d="M183.00 1191.84 L157.50 1191.84 L157.50 1288.68 L170.30 1288.68"/>
<path d="M229.00 1498.50 L207.00 1498.50 L207.00 1530.78 L229.00 1530.78"/>
<path d="M229.00 1466.22 L200.60 1466.22 L200.60 1514.64 L207.00 1514.64"/>
<path d="M229.00 1433.94 L189.20 1433.94 L189.20 1490.43 L200.60 1490.43"/>
<path d="M229.00 1563.06 L202.70 1563.06 L202.70 1595.34 L229.00 1595.34"/>
<path d="M229.00 1627.62 L191.80 1627.62 L191.80 1659.90 L229.00 1659.90"/>
<path d="M202.70 1579.20 L183.00 1579.20 L183.00 1643.76 L191.80 1643.76"/>
<path d="M189.20 1462.18 L170.30 1462.18 L170.30 1611.48 L183.00 1611.48"/>
<path d="M229.00 1401.66 L163.60 1401.66 L163.60 1536.83 L170.30 1536.83"/>
<path d="M229.00 1369.38 L149.60 1369.38 L149.60 1469.25 L163.60 1469.25"/>
<path d="M157.50 1240.26 L139.00 1240.26 L139.00 1419.31 L149.60 1419.31"/>
<path d="M144.30 1074.83 L125.80 1074.83 L125.80 1329.79 L139.00 1329.79"/>
<path d="M168.60 945.71 L115.30 945.71 L115.30 1202.31 L125.80 1202.31"/>
<path d="M229.00 1853.58 L169.80 1853.58 L169.80 1885.86 L229.00 1885.86"/>
<path d="M229.00 1821.30 L138.70 1821.30 L138.70 1869.72 L169.80 1869.72"/>
<path d="M229.00 1789.02 L130.20 1789.02 L130.20 1845.51 L138.70 1845.51"/>
<path d="M229.00 1724.46 L149.60 1724.46 L149.60 1756.74 L229.00 1756.74"/>
<path d="M149.60 1740.60 L120.50 1740.60 L120.50 1817.27 L130.20 1817.27"/>
<path d="M229.00 1692.18 L100.60 1692.18 L100.60 1778.93 L120.50 1778.93"/>
<path d="M115.30 1074.01 L70.40 1074.01 L70.40 1735.56 L100.60 1735.56"/>
<path d="M116.10 606.26 L10.90 606.26 L10.90 1404.78 L70.40 1404.78"/>
</g>
<g class="r">
<text x="2111.5 2128.5 2146.5 2164.5 2183.5" y="313.14">PDRG1</text>
<text x="2111.5 2128.5 2147.5 2161.5 2179.5 2193.5" y="345.42">POLR1E</text>
<text x="2111.5 2129.5 2146.5 2163.5" y="377.70">RPSA</text>
<text x="2111.5 2128.5 2146.5 2164.5" y="409.98">SND1</text>
<text x="2111.5 2130.5 2147.5 2165.5 2182.5" y="442.26">QARS1</text>
<text x="2111.5 2128.5 2135.5 2150.5 2164.5" y="474.54">EIF3D</text>
<text x="2111.5 2129.5 2146.5 2160.5 2177.5" y="506.82">RPLP0</text>
<text x="2111.5 2129.5 2136.5 2153.5 2170.5 2188.5 2205.5 2222.5" y="539.10">NIPSNAP2</text>
<text x="2111.5 2129.5 2146.5 2167.5" y="571.38">NPM1</text>
<text x="2111.5 2128.5 2145.5 2162.5" y="603.66">PPA1</text>
<text x="2111.5 2128.5 2143.5 2157.5" y="635.94">ST13</text>
<text x="2111.5 2128.5 2143.5 2158.5" y="668.22">BTF3</text>
<text x="2111.5 2128.5 2135.5 2150.5 2164.5" y="700.50">EIF4B</text>
<text x="2111.5 2128.5 2143.5 2160.5 2178.5 2192.5 2206.5 2220.5" y="732.78">ATXN7L3B</text>
<text x="2111.5 2128.5 2146.5 2160.5 2174.5 2188.5 2202.5 2216.5 2230.5 2237.5" y="765.06">AC002310.1</text>
<text x="2111.5 2129.5 2146.5 2164.5 2181.5" y="797.34">CENPH</text>
<text x="2111.5 2129.5 2136.5 2153.5 2170.5 2184.5 2192.5 2210.5" y="829.62">NIPBL-DT</text>
<text x="2111.5 2128.5 2145.5 2160.5 2177.5 2191.5 2199.5 2216.5 2233.5" y="861.90">SATB2-AS1</text>
<text x="2111.5 2128.5 2146.5 2160.5 2174.5 2188.5 2202.5 2216.5 2230.5 2237.5" y="894.18">AC008124.1</text>
<text x="2111.5 2126.5 2143.5 2164.5" y="926.46">TYMP</text>
<text x="2111.5 2118.5 2135.5 2154.5 2168.5" y="958.74">ISG20</text>
<text x="2111.5 2118.5 2136.5 2151.5" y="991.02">IRF7</text>
<text x="2111.5 2125.5 2142.5 2156.5" y="1023.30">LY6E</text>
<text x="2111.5 2132.5 2150.5 2168.5" y="1055.58">MNDA</text>
<text x="2111.5 2128.5 2146.5 2163.5 2181.5" y="1087.86">ADPRH</text>
<text x="2111.5 2125.5 2142.5 2156.5" y="1120.14">LY86</text>
<text x="2111.5 2129.5 2146.5 2167.5 2181.5" y="1152.42">RBM47</text>
<text x="2111.5 2128.5 2145.5 2164.5 2178.5" y="1184.70">APOL2</text>
<text x="2111.5 2128.5 2149.5" y="1216.98">PML</text>
<text x="2111.5 2129.5 2146.5 2163.5 2177.5 2191.5" y="1249.26">UBE2L6</text>
<text x="2111.5 2118.5 2133.5 2140.5 2155.5 2176.5" y="1281.54">IFITM1</text>
<text x="2111.5 2128.5 2146.5 2161.5" y="1313.82">SHFL</text>
<text x="2111.5 2126.5 2145.5 2163.5" y="1346.10">FGD2</text>
<text x="2111.5 2132.5 2149.5 2167.5 2181.5 2195.5 2209.5 2226.5" y="1378.38">MAD2L1BP</text>
<text x="2111.5 2129.5 2147.5 2154.5" y="1410.66">NRIR</text>
<text x="2111.5 2128.5 2135.5 2152.5 2169.5" y="1442.94">BISPR</text>
<text x="2111.5 2129.5 2150.5 2167.5 2184.5" y="1475.22">CMPK2</text>
<text x="2111.5 2118.5 2133.5 2140.5 2155.5" y="1507.50">IFIT1</text>
<text x="2111.5 2132.5 2149.5" y="1539.78">MX2</text>
<text x="2111.5 2118.5 2135.5 2154.5 2168.5" y="1572.06">ISG15</text>
<text x="2111.5 2126.5 2143.5 2160.5" y="1604.34">TAP1</text>
<text x="2111.5 2130.5 2147.5 2164.5" y="1636.62">OAS1</text>
<text x="2111.5 2126.5 2144.5 2162.5 2180.5" y="1668.90">TDRD7</text>
<text x="2111.5 2129.5" y="1701.18">CP</text>
<text x="2111.5 2126.5 2144.5 2151.5 2172.5 2186.5" y="1733.46">TRIM62</text>
<text x="2111.5 2126.5 2147.5 2164.5 2185.5 2199.5 2213.5" y="1765.74">TMEM102</text>
<text x="2111.5 2129.5 2136.5 2153.5 2170.5" y="1798.02">RIPK3</text>
<text x="2111.5 2129.5 2146.5 2167.5 2181.5" y="1830.30">RBM15</text>
<text x="2111.5 2126.5 2144.5 2151.5 2172.5 2186.5" y="1862.58">TRIM21</text>
<text x="2111.5 2128.5 2135.5 2153.5 2170.5 2187.5" y="1894.86">SIRPB2</text>
</g>
<g class="c">
<text transform="translate(258.35,1913.70) rotate(90) scale(1,1.03)" x="0 42 70 95 123 159 198 231 264 292">M_sgROSA_1</text>
<text transform="translate(351.85,1913.70) rotate(90) scale(1,1.03)" x="0 31 59 84 112 148 187 220 253 281">T_sgROSA_1</text>
<text transform="translate(445.35,1913.70) rotate(90) scale(1,1.03)" x="0 31 59 84 112 148 187 220 253 281">T_sgROSA_2</text>
<text transform="translate(538.85,1913.70) rotate(90) scale(1,1.03)" x="0 42 70 95 123 165 198 229 260 288 316 344 372 400">M_sgMETTL3_3_1</text>
<text transform="translate(632.35,1913.70) rotate(90) scale(1,1.03)" x="0 42 70 95 123 159 198 231 264 292">M_sgROSA_2</text>
<text transform="translate(725.85,1913.70) rotate(90) scale(1,1.03)" x="0 42 70 95 123 165 198 229 260 288 316 344 372 400">M_sgMETTL3_3_2</text>
<text transform="translate(819.35,1913.70) rotate(90) scale(1,1.03)" x="0 42 70 95 123 165 198 229 260 288 316 344 372 400 428">M_sgMETTL14_2_1</text>
<text transform="translate(912.85,1913.70) rotate(90) scale(1,1.03)" x="0 42 70 95 123 165 198 229 260 288 316 344 372 400 428">M_sgMETTL14_2_2</text>
<text transform="translate(1006.35,1913.70) rotate(90) scale(1,1.03)" x="0 42 70 95 123 165 198 229 260 288 316 344 372 400 428">M_sgMETTL14_1_1</text>
<text transform="translate(1099.85,1913.70) rotate(90) scale(1,1.03)" x="0 42 70 95 123 165 198 229 260 288 316 344 372 400">M_sgMETTL3_2_1</text>
<text transform="translate(1193.35,1913.70) rotate(90) scale(1,1.03)" x="0 31 59 84 112 154 187 218 249 277 305 333 361 389 417">T_sgMETTL14_1_2</text>
<text transform="translate(1286.85,1913.70) rotate(90) scale(1,1.03)" x="0 42 70 95 123 165 198 229 260 288 316 344 372 400 428">M_sgMETTL14_1_2</text>
<text transform="translate(1380.35,1913.70) rotate(90) scale(1,1.03)" x="0 42 70 95 123 165 198 229 260 288 316 344 372 400">M_sgMETTL3_2_2</text>
<text transform="translate(1473.85,1913.70) rotate(90) scale(1,1.03)" x="0 31 59 84 112 154 187 218 249 277 305 333 361 389 417">T_sgMETTL14_1_1</text>
<text transform="translate(1567.35,1913.70) rotate(90) scale(1,1.03)" x="0 31 59 84 112 154 187 218 249 277 305 333 361 389 417">T_sgMETTL14_2_1</text>
<text transform="translate(1660.85,1913.70) rotate(90) scale(1,1.03)" x="0 31 59 84 112 154 187 218 249 277 305 333 361 389">T_sgMETTL3_3_1</text>
<text transform="translate(1754.35,1913.70) rotate(90) scale(1,1.03)" x="0 31 59 84 112 154 187 218 249 277 305 333 361 389">T_sgMETTL3_3_2</text>
<text transform="translate(1847.85,1913.70) rotate(90) scale(1,1.03)" x="0 31 59 84 112 154 187 218 249 277 305 333 361 389 417">T_sgMETTL14_2_2</text>
<text transform="translate(1941.35,1913.70) rotate(90) scale(1,1.03)" x="0 31 59 84 112 154 187 218 249 277 305 333 361 389">T_sgMETTL3_2_1</text>
<text transform="translate(2034.85,1913.70) rotate(90) scale(1,1.03)" x="0 31 59 84 112 154 187 218 249 277 305 333 361 389">T_sgMETTL3_2_2</text>
</g>
<g shape-rendering="crispEdges">
<rect x="2280.00" y="900.30" width="41.70" height="12.50" fill="#053276"/>
<rect x="2280.00" y="887.81" width="41.70" height="12.90" fill="#073477"/>
<rect x="2280.00" y="875.31" width="41.70" height="12.90" fill="#0A3679"/>
<rect x="2280.00" y="862.82" width="41.70" height="12.90" fill="#0C387A"/>
<rect x="2280.00" y="850.32" width="41.70" height="12.90" fill="#0F3A7C"/>
<rect x="2280.00" y="837.82" width="41.70" height="12.90" fill="#113C7D"/>
<rect x="2280.00" y="825.33" width="41.70" height="12.90" fill="#143E7F"/>
<rect x="2280.00" y="812.83" width="41.70" height="12.90" fill="#164080"/>
<rect x="2280.00" y="800.34" width="41.70" height="12.90" fill="#194282"/>
<rect x="2280.00" y="787.84" width="41.70" height="12.90" fill="#1B4483"/>
<rect x="2280.00" y="775.34" width="41.70" height="12.90" fill="#1D4685"/>
<rect x="2280.00" y="762.85" width="41.70" height="12.90" fill="#204886"/>
<rect x="2280.00" y="750.35" width="41.70" height="12.90" fill="#224A88"/>
<rect x="2280.00" y="737.86" width="41.70" height="12.90" fill="#30558F"/>
<rect x="2280.00" y="725.36" width="41.70" height="12.90" fill="#426399"/>
<rect x="2280.00" y="712.86" width="41.70" height="12.90" fill="#5372A2"/>
<rect x="2280.00" y="700.37" width="41.70" height="12.90" fill="#6580AC"/>
<rect x="2280.00" y="687.87" width="41.70" height="12.90" fill="#768EB5"/>
<rect x="2280.00" y="675.38" width="41.70" height="12.90" fill="#879DBE"/>
<rect x="2280.00" y="662.88" width="41.70" height="12.90" fill="#99ABC8"/>
<rect x="2280.00" y="650.38" width="41.70" height="12.90" fill="#AAB9D1"/>
<rect x="2280.00" y="637.89" width="41.70" height="12.90" fill="#BCC8DB"/>
<rect x="2280.00" y="625.39" width="41.70" height="12.90" fill="#CDD6E4"/>
<rect x="2280.00" y="612.90" width="41.70" height="12.90" fill="#DFE4EE"/>
<rect x="2280.00" y="600.40" width="41.70" height="12.90" fill="#F0F3F7"/>
<rect x="2280.00" y="587.90" width="41.70" height="12.90" fill="#F5EFEF"/>
<rect x="2280.00" y="575.41" width="41.70" height="12.90" fill="#F1DEDE"/>
<rect x="2280.00" y="562.91" width="41.70" height="12.90" fill="#EDCDCD"/>
<rect x="2280.00" y="550.42" width="41.70" height="12.90" fill="#E9BCBD"/>
<rect x="2280.00" y="537.92" width="41.70" height="12.90" fill="#E5ACAC"/>
<rect x="2280.00" y="525.42" width="41.70" height="12.90" fill="#E19B9B"/>
<rect x="2280.00" y="512.93" width="41.70" height="12.90" fill="#DD8A8B"/>
<rect x="2280.00" y="500.43" width="41.70" height="12.90" fill="#D9797A"/>
<rect x="2280.00" y="487.94" width="41.70" height="12.90" fill="#D56969"/>
<rect x="2280.00" y="475.44" width="41.70" height="12.90" fill="#D15859"/>
<rect x="2280.00" y="462.94" width="41.70" height="12.90" fill="#CD4748"/>
<rect x="2280.00" y="450.45" width="41.70" height="12.90" fill="#C93737"/>
<rect x="2280.00" y="437.95" width="41.70" height="12.90" fill="#C6292A"/>
<rect x="2280.00" y="425.46" width="41.70" height="12.90" fill="#C52728"/>
<rect x="2280.00" y="412.96" width="41.70" height="12.90" fill="#C52526"/>
<rect x="2280.00" y="400.46" width="41.70" height="12.90" fill="#C42324"/>
<rect x="2280.00" y="387.97" width="41.70" height="12.90" fill="#C42121"/>
<rect x="2280.00" y="375.47" width="41.70" height="12.90" fill="#C31E1F"/>
<rect x="2280.00" y="362.98" width="41.70" height="12.90" fill="#C31C1D"/>
<rect x="2280.00" y="350.48" width="41.70" height="12.90" fill="#C21A1A"/>
<rect x="2280.00" y="337.98" width="41.70" height="12.90" fill="#C21818"/>
<rect x="2280.00" y="325.49" width="41.70" height="12.90" fill="#C11616"/>
<rect x="2280.00" y="312.99" width="41.70" height="12.90" fill="#C11314"/>
<rect x="2280.00" y="300.50" width="41.70" height="12.90" fill="#C01111"/>
<rect x="2280.00" y="288.00" width="41.70" height="12.90" fill="#C00F0F"/>
</g><g class="l">
<text transform="translate(2337.4,350.40) scale(1,1.075)" x="0">3</text>
<text transform="translate(2337.4,438.90) scale(1,1.075)" x="0">2</text>
<text transform="translate(2337.4,527.40) scale(1,1.075)" x="0">1</text>
<text transform="translate(2337.4,615.90) scale(1,1.075)" x="0">0</text>
<text transform="translate(2337.4,704.40) scale(1,1.075)" x="0 14">-1</text>
<text transform="translate(2337.4,792.90) scale(1,1.075)" x="0 14">-2</text>
<text transform="translate(2337.4,881.40) scale(1,1.075)" x="0 14">-3</text>
</g></svg></body></html>
